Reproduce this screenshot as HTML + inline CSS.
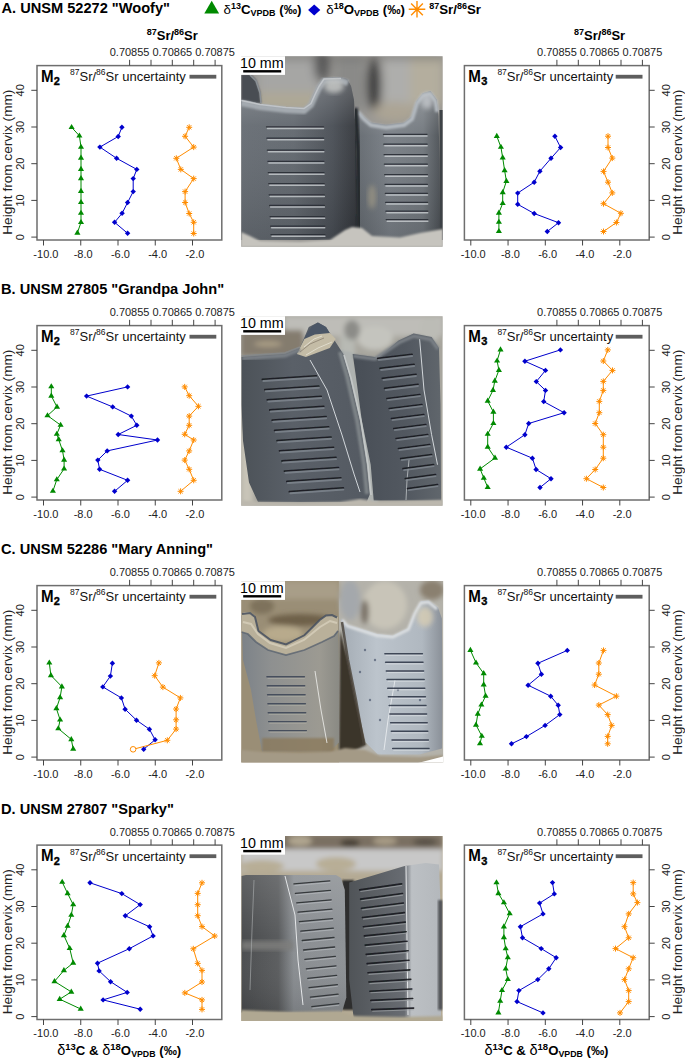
<!DOCTYPE html><html><head><meta charset="utf-8"><style>html,body{margin:0;padding:0;background:#fff;width:685px;height:1059px;overflow:hidden}svg{display:block}</style></head><body><svg width="685" height="1059" viewBox="0 0 685 1059" font-family="Liberation Sans, sans-serif">
<defs>
<filter id="b1" x="-10%" y="-10%" width="120%" height="120%"><feGaussianBlur stdDeviation="1"/></filter>
<filter id="b2" x="-20%" y="-20%" width="140%" height="140%"><feGaussianBlur stdDeviation="2.5"/></filter>
<filter id="b3" x="-30%" y="-30%" width="160%" height="160%"><feGaussianBlur stdDeviation="5"/></filter>
<filter id="b05"><feGaussianBlur stdDeviation="0.5"/></filter>
<filter id="b04" x="-5%" y="-5%" width="110%" height="110%"><feGaussianBlur stdDeviation="0.4"/></filter>
<clipPath id="cA"><rect x="241.2" y="56.2" width="201.4" height="190.5"/></clipPath>
<clipPath id="cB"><rect x="241.2" y="316.2" width="201.4" height="189.5"/></clipPath>
<clipPath id="cC"><rect x="241.2" y="581" width="202" height="181.5"/></clipPath>
<clipPath id="cD"><rect x="241.2" y="836" width="201.4" height="185"/></clipPath>
<linearGradient id="t1A" x1="0" x2="1" y1="0" y2="0"><stop offset="0" stop-color="#656b72"/><stop offset="0.45" stop-color="#60666d"/><stop offset="0.78" stop-color="#484d54"/><stop offset="1" stop-color="#303338"/></linearGradient>
<linearGradient id="t2A" x1="0" x2="1" y1="0" y2="0"><stop offset="0" stop-color="#60666c"/><stop offset="0.4" stop-color="#777d84"/><stop offset="0.8" stop-color="#6e747a"/><stop offset="1" stop-color="#4a4f54"/></linearGradient>
<linearGradient id="vA" x1="0" x2="0" y1="0" y2="1"><stop offset="0" stop-color="#fff" stop-opacity="0.25"/><stop offset="0.3" stop-color="#fff" stop-opacity="0.05"/><stop offset="1" stop-color="#000" stop-opacity="0.1"/></linearGradient>
</defs>
<defs>
<linearGradient id="t1B" x1="0" x2="1" y1="0" y2="0"><stop offset="0" stop-color="#4c5258"/><stop offset="0.4" stop-color="#5a6068"/><stop offset="1" stop-color="#545a62"/></linearGradient>
<linearGradient id="t2B" x1="0" x2="1" y1="0" y2="0"><stop offset="0" stop-color="#484e56"/><stop offset="0.6" stop-color="#525860"/><stop offset="1" stop-color="#60666c"/></linearGradient>
<linearGradient id="t1C" x1="0" x2="1" y1="0" y2="0"><stop offset="0" stop-color="#7c8288"/><stop offset="0.3" stop-color="#8e9090"/><stop offset="0.8" stop-color="#9c9a92"/><stop offset="1" stop-color="#8a8a84"/></linearGradient>
<linearGradient id="t2C" x1="0" x2="1" y1="0" y2="0"><stop offset="0" stop-color="#a4acb4"/><stop offset="0.35" stop-color="#bcc4cc"/><stop offset="0.8" stop-color="#b0b8c0"/><stop offset="1" stop-color="#8a9098"/></linearGradient>
<linearGradient id="vD" x1="0" x2="0" y1="0" y2="1"><stop offset="0" stop-color="#fff" stop-opacity="0.12"/><stop offset="0.45" stop-color="#fff" stop-opacity="0"/><stop offset="1" stop-color="#000" stop-opacity="0.12"/></linearGradient>
<linearGradient id="t1D" x1="0" x2="1" y1="0" y2="0"><stop offset="0" stop-color="#4a4c4e"/><stop offset="0.35" stop-color="#5a5c5e"/><stop offset="0.5" stop-color="#8a8e92"/><stop offset="1" stop-color="#8e9296"/></linearGradient>
<linearGradient id="t2D" x1="0" x2="1" y1="0" y2="0"><stop offset="0" stop-color="#505458"/><stop offset="0.6" stop-color="#686c72"/><stop offset="0.68" stop-color="#bcc0c4"/><stop offset="1" stop-color="#b4b8bc"/></linearGradient>
</defs>
<rect width="685" height="1059" fill="#fff"/>
<text x="1.5" y="13.2" font-size="14.6" font-weight="bold" fill="#000">A. UNSM 52272 "Woofy"</text>
<rect x="37" y="65.6" width="184.8" height="174.4" fill="none" stroke="#6e6e6e" stroke-width="1.5"/>
<path d="M31.3 237.1H37" stroke="#444" stroke-width="1"/>
<text x="24.3" y="237.1" font-size="11" text-anchor="middle" fill="#222" transform="rotate(-90 24.3 237.1)">0</text>
<path d="M31.3 200.4H37" stroke="#444" stroke-width="1"/>
<text x="24.3" y="200.4" font-size="11" text-anchor="middle" fill="#222" transform="rotate(-90 24.3 200.4)">10</text>
<path d="M31.3 163.7H37" stroke="#444" stroke-width="1"/>
<text x="24.3" y="163.7" font-size="11" text-anchor="middle" fill="#222" transform="rotate(-90 24.3 163.7)">20</text>
<path d="M31.3 127H37" stroke="#444" stroke-width="1"/>
<text x="24.3" y="127" font-size="11" text-anchor="middle" fill="#222" transform="rotate(-90 24.3 127)">30</text>
<path d="M31.3 90.3H37" stroke="#444" stroke-width="1"/>
<text x="24.3" y="90.3" font-size="11" text-anchor="middle" fill="#222" transform="rotate(-90 24.3 90.3)">40</text>
<text x="11.9" y="162.2" font-size="13.6" text-anchor="middle" fill="#222" transform="rotate(-90 11.9 162.2)">Height from cervix (mm)</text>
<path d="M43.5 240V245.5" stroke="#444" stroke-width="1"/>
<text x="45.9" y="257.5" font-size="11" text-anchor="middle" fill="#222">-10.0</text>
<path d="M80.75 240V245.5" stroke="#444" stroke-width="1"/>
<text x="83.15" y="257.5" font-size="11" text-anchor="middle" fill="#222">-8.0</text>
<path d="M118 240V245.5" stroke="#444" stroke-width="1"/>
<text x="120.4" y="257.5" font-size="11" text-anchor="middle" fill="#222">-6.0</text>
<path d="M155.25 240V245.5" stroke="#444" stroke-width="1"/>
<text x="157.65" y="257.5" font-size="11" text-anchor="middle" fill="#222">-4.0</text>
<path d="M192.5 240V245.5" stroke="#444" stroke-width="1"/>
<text x="194.9" y="257.5" font-size="11" text-anchor="middle" fill="#222">-2.0</text>
<path d="M129.6 59.8V65.6" stroke="#444" stroke-width="1"/>
<text x="129.6" y="56" font-size="11" text-anchor="middle" fill="#222">0.70855</text>
<path d="M151 59.8V65.6" stroke="#444" stroke-width="1"/>
<path d="M172.3 59.8V65.6" stroke="#444" stroke-width="1"/>
<text x="172.3" y="56" font-size="11" text-anchor="middle" fill="#222">0.70865</text>
<path d="M193.7 59.8V65.6" stroke="#444" stroke-width="1"/>
<path d="M215.1 59.8V65.6" stroke="#444" stroke-width="1"/>
<text x="215.1" y="56" font-size="11" text-anchor="middle" fill="#222">0.70875</text>
<text transform="translate(40.9 81.9) scale(0.9 1)" font-size="16.8" font-weight="bold">M</text>
<text x="53.8" y="85" font-size="11" font-weight="bold" stroke="#000" stroke-width="0.35">2</text>
<text x="70" y="81.1" font-size="13" fill="#111"><tspan font-size="8.5" dy="-6">87</tspan><tspan dy="6">Sr/</tspan><tspan font-size="8.5" dy="-6">86</tspan><tspan dy="6">Sr uncertainty</tspan></text>
<rect x="189.5" y="74.8" width="26.8" height="3.8" fill="#5e5e5e"/>
<polyline points="71.6,127.3 79.4,135.8 81,147.1 81,157.9 81,169.2 81,178.4 81,191.2 81,202.3 81,213.1 81,222.3 77.4,232.9" fill="none" stroke="#008a00" stroke-width="1" stroke-linejoin="round"/>
<polyline points="121.9,127.3 118.2,136.5 99.9,147.1 116.6,158.3 136.8,169.4 133.2,178.6 133.2,191.6 127.6,202.5 122.1,213.3 114.6,222.3 127.6,233.3" fill="none" stroke="#0000cd" stroke-width="1" stroke-linejoin="round"/>
<polyline points="189.2,127.3 185.1,136.3 193.7,147.1 176.3,158.3 180.8,169.4 193.7,178.6 185.1,191.6 185.1,202.5 189.2,213.5 193.7,222.3 193.7,233.5" fill="none" stroke="#ff8c00" stroke-width="1" stroke-linejoin="round"/>
<path d="M71.6 123.9L74.65 129.05L68.55 129.05Z" fill="#008a00"/>
<path d="M79.4 132.4L82.45 137.55L76.35 137.55Z" fill="#008a00"/>
<path d="M81 143.7L84.05 148.85L77.95 148.85Z" fill="#008a00"/>
<path d="M81 154.5L84.05 159.65L77.95 159.65Z" fill="#008a00"/>
<path d="M81 165.8L84.05 170.95L77.95 170.95Z" fill="#008a00"/>
<path d="M81 175L84.05 180.15L77.95 180.15Z" fill="#008a00"/>
<path d="M81 187.8L84.05 192.95L77.95 192.95Z" fill="#008a00"/>
<path d="M81 198.9L84.05 204.05L77.95 204.05Z" fill="#008a00"/>
<path d="M81 209.7L84.05 214.85L77.95 214.85Z" fill="#008a00"/>
<path d="M81 218.9L84.05 224.05L77.95 224.05Z" fill="#008a00"/>
<path d="M77.4 229.5L80.45 234.65L74.35 234.65Z" fill="#008a00"/>
<path d="M121.9 124.6L124.6 127.3L121.9 130L119.2 127.3Z" fill="#0000cd"/>
<path d="M118.2 133.8L120.9 136.5L118.2 139.2L115.5 136.5Z" fill="#0000cd"/>
<path d="M99.9 144.4L102.6 147.1L99.9 149.8L97.2 147.1Z" fill="#0000cd"/>
<path d="M116.6 155.6L119.3 158.3L116.6 161L113.9 158.3Z" fill="#0000cd"/>
<path d="M136.8 166.7L139.5 169.4L136.8 172.1L134.1 169.4Z" fill="#0000cd"/>
<path d="M133.2 175.9L135.9 178.6L133.2 181.3L130.5 178.6Z" fill="#0000cd"/>
<path d="M133.2 188.9L135.9 191.6L133.2 194.3L130.5 191.6Z" fill="#0000cd"/>
<path d="M127.6 199.8L130.3 202.5L127.6 205.2L124.9 202.5Z" fill="#0000cd"/>
<path d="M122.1 210.6L124.8 213.3L122.1 216L119.4 213.3Z" fill="#0000cd"/>
<path d="M114.6 219.6L117.3 222.3L114.6 225L111.9 222.3Z" fill="#0000cd"/>
<path d="M127.6 230.6L130.3 233.3L127.6 236L124.9 233.3Z" fill="#0000cd"/>
<path d="M186.2 127.3H192.2M189.2 124.3V130.3M187.08 125.18L191.32 129.42M187.08 129.42L191.32 125.18" stroke="#ff8c00" stroke-width="1" fill="none"/>
<path d="M182.1 136.3H188.1M185.1 133.3V139.3M182.98 134.18L187.22 138.42M182.98 138.42L187.22 134.18" stroke="#ff8c00" stroke-width="1" fill="none"/>
<path d="M190.7 147.1H196.7M193.7 144.1V150.1M191.58 144.98L195.82 149.22M191.58 149.22L195.82 144.98" stroke="#ff8c00" stroke-width="1" fill="none"/>
<path d="M173.3 158.3H179.3M176.3 155.3V161.3M174.18 156.18L178.42 160.42M174.18 160.42L178.42 156.18" stroke="#ff8c00" stroke-width="1" fill="none"/>
<path d="M177.8 169.4H183.8M180.8 166.4V172.4M178.68 167.28L182.92 171.52M178.68 171.52L182.92 167.28" stroke="#ff8c00" stroke-width="1" fill="none"/>
<path d="M190.7 178.6H196.7M193.7 175.6V181.6M191.58 176.48L195.82 180.72M191.58 180.72L195.82 176.48" stroke="#ff8c00" stroke-width="1" fill="none"/>
<path d="M182.1 191.6H188.1M185.1 188.6V194.6M182.98 189.48L187.22 193.72M182.98 193.72L187.22 189.48" stroke="#ff8c00" stroke-width="1" fill="none"/>
<path d="M182.1 202.5H188.1M185.1 199.5V205.5M182.98 200.38L187.22 204.62M182.98 204.62L187.22 200.38" stroke="#ff8c00" stroke-width="1" fill="none"/>
<path d="M186.2 213.5H192.2M189.2 210.5V216.5M187.08 211.38L191.32 215.62M187.08 215.62L191.32 211.38" stroke="#ff8c00" stroke-width="1" fill="none"/>
<path d="M190.7 222.3H196.7M193.7 219.3V225.3M191.58 220.18L195.82 224.42M191.58 224.42L195.82 220.18" stroke="#ff8c00" stroke-width="1" fill="none"/>
<path d="M190.7 233.5H196.7M193.7 230.5V236.5M191.58 231.38L195.82 235.62M191.58 235.62L195.82 231.38" stroke="#ff8c00" stroke-width="1" fill="none"/>
<text x="172.3" y="40.4" font-size="13" font-weight="bold" text-anchor="middle"><tspan font-size="9" dy="-5">87</tspan><tspan dy="5">Sr/</tspan><tspan font-size="9" dy="-5">86</tspan><tspan dy="5">Sr</tspan></text>
<rect x="464.4" y="65.6" width="184.8" height="174.4" fill="none" stroke="#6e6e6e" stroke-width="1.5"/>
<path d="M649.2 237.1H654.7" stroke="#444" stroke-width="1"/>
<text x="669.6" y="237.1" font-size="11" text-anchor="middle" fill="#222" transform="rotate(-90 669.6 237.1)">0</text>
<path d="M649.2 200.4H654.7" stroke="#444" stroke-width="1"/>
<text x="669.6" y="200.4" font-size="11" text-anchor="middle" fill="#222" transform="rotate(-90 669.6 200.4)">10</text>
<path d="M649.2 163.7H654.7" stroke="#444" stroke-width="1"/>
<text x="669.6" y="163.7" font-size="11" text-anchor="middle" fill="#222" transform="rotate(-90 669.6 163.7)">20</text>
<path d="M649.2 127H654.7" stroke="#444" stroke-width="1"/>
<text x="669.6" y="127" font-size="11" text-anchor="middle" fill="#222" transform="rotate(-90 669.6 127)">30</text>
<path d="M649.2 90.3H654.7" stroke="#444" stroke-width="1"/>
<text x="669.6" y="90.3" font-size="11" text-anchor="middle" fill="#222" transform="rotate(-90 669.6 90.3)">40</text>
<text x="681.6" y="162.2" font-size="13.6" text-anchor="middle" fill="#222" transform="rotate(-90 681.6 162.2)">Height from cervix (mm)</text>
<path d="M470.8 240V245.5" stroke="#444" stroke-width="1"/>
<text x="473.2" y="257.5" font-size="11" text-anchor="middle" fill="#222">-10.0</text>
<path d="M508.05 240V245.5" stroke="#444" stroke-width="1"/>
<text x="510.45" y="257.5" font-size="11" text-anchor="middle" fill="#222">-8.0</text>
<path d="M545.3 240V245.5" stroke="#444" stroke-width="1"/>
<text x="547.7" y="257.5" font-size="11" text-anchor="middle" fill="#222">-6.0</text>
<path d="M582.55 240V245.5" stroke="#444" stroke-width="1"/>
<text x="584.95" y="257.5" font-size="11" text-anchor="middle" fill="#222">-4.0</text>
<path d="M619.8 240V245.5" stroke="#444" stroke-width="1"/>
<text x="622.2" y="257.5" font-size="11" text-anchor="middle" fill="#222">-2.0</text>
<path d="M556.9 59.8V65.6" stroke="#444" stroke-width="1"/>
<text x="556.9" y="56" font-size="11" text-anchor="middle" fill="#222">0.70855</text>
<path d="M578.3 59.8V65.6" stroke="#444" stroke-width="1"/>
<path d="M599.6 59.8V65.6" stroke="#444" stroke-width="1"/>
<text x="599.6" y="56" font-size="11" text-anchor="middle" fill="#222">0.70865</text>
<path d="M621 59.8V65.6" stroke="#444" stroke-width="1"/>
<path d="M642.4 59.8V65.6" stroke="#444" stroke-width="1"/>
<text x="642.4" y="56" font-size="11" text-anchor="middle" fill="#222">0.70875</text>
<text transform="translate(468.3 81.9) scale(0.9 1)" font-size="16.8" font-weight="bold">M</text>
<text x="481.2" y="85" font-size="11" font-weight="bold" stroke="#000" stroke-width="0.35">3</text>
<text x="497.4" y="81.1" font-size="13" fill="#111"><tspan font-size="8.5" dy="-6">87</tspan><tspan dy="6">Sr/</tspan><tspan font-size="8.5" dy="-6">86</tspan><tspan dy="6">Sr uncertainty</tspan></text>
<rect x="615.7" y="74.8" width="26.8" height="3.8" fill="#5e5e5e"/>
<polyline points="496.8,136.2 500.9,147.1 502.7,157.7 504.6,170.4 506.4,181.2 502.7,192.4 502.7,203.3 498.9,212.9 498.9,222.1 498.9,231.3" fill="none" stroke="#008a00" stroke-width="1" stroke-linejoin="round"/>
<polyline points="554.9,136.2 560.6,147.5 551,158.3 539.9,171.2 534.2,182.2 517.7,193.1 517.7,204.3 534.2,213.5 558.5,222.7 547.3,231.5" fill="none" stroke="#0000cd" stroke-width="1" stroke-linejoin="round"/>
<polyline points="608,136.2 608,147.5 612.3,158.1 603.5,171.4 608,182.2 612.3,192.9 603.5,203.7 620.9,213.3 616.4,222.5 603.5,231.5" fill="none" stroke="#ff8c00" stroke-width="1" stroke-linejoin="round"/>
<path d="M496.8 132.8L499.85 137.95L493.75 137.95Z" fill="#008a00"/>
<path d="M500.9 143.7L503.95 148.85L497.85 148.85Z" fill="#008a00"/>
<path d="M502.7 154.3L505.75 159.45L499.65 159.45Z" fill="#008a00"/>
<path d="M504.6 167L507.65 172.15L501.55 172.15Z" fill="#008a00"/>
<path d="M506.4 177.8L509.45 182.95L503.35 182.95Z" fill="#008a00"/>
<path d="M502.7 189L505.75 194.15L499.65 194.15Z" fill="#008a00"/>
<path d="M502.7 199.9L505.75 205.05L499.65 205.05Z" fill="#008a00"/>
<path d="M498.9 209.5L501.95 214.65L495.85 214.65Z" fill="#008a00"/>
<path d="M498.9 218.7L501.95 223.85L495.85 223.85Z" fill="#008a00"/>
<path d="M498.9 227.9L501.95 233.05L495.85 233.05Z" fill="#008a00"/>
<path d="M554.9 133.5L557.6 136.2L554.9 138.9L552.2 136.2Z" fill="#0000cd"/>
<path d="M560.6 144.8L563.3 147.5L560.6 150.2L557.9 147.5Z" fill="#0000cd"/>
<path d="M551 155.6L553.7 158.3L551 161L548.3 158.3Z" fill="#0000cd"/>
<path d="M539.9 168.5L542.6 171.2L539.9 173.9L537.2 171.2Z" fill="#0000cd"/>
<path d="M534.2 179.5L536.9 182.2L534.2 184.9L531.5 182.2Z" fill="#0000cd"/>
<path d="M517.7 190.4L520.4 193.1L517.7 195.8L515 193.1Z" fill="#0000cd"/>
<path d="M517.7 201.6L520.4 204.3L517.7 207L515 204.3Z" fill="#0000cd"/>
<path d="M534.2 210.8L536.9 213.5L534.2 216.2L531.5 213.5Z" fill="#0000cd"/>
<path d="M558.5 220L561.2 222.7L558.5 225.4L555.8 222.7Z" fill="#0000cd"/>
<path d="M547.3 228.8L550 231.5L547.3 234.2L544.6 231.5Z" fill="#0000cd"/>
<path d="M605 136.2H611M608 133.2V139.2M605.88 134.08L610.12 138.32M605.88 138.32L610.12 134.08" stroke="#ff8c00" stroke-width="1" fill="none"/>
<path d="M605 147.5H611M608 144.5V150.5M605.88 145.38L610.12 149.62M605.88 149.62L610.12 145.38" stroke="#ff8c00" stroke-width="1" fill="none"/>
<path d="M609.3 158.1H615.3M612.3 155.1V161.1M610.18 155.98L614.42 160.22M610.18 160.22L614.42 155.98" stroke="#ff8c00" stroke-width="1" fill="none"/>
<path d="M600.5 171.4H606.5M603.5 168.4V174.4M601.38 169.28L605.62 173.52M601.38 173.52L605.62 169.28" stroke="#ff8c00" stroke-width="1" fill="none"/>
<path d="M605 182.2H611M608 179.2V185.2M605.88 180.08L610.12 184.32M605.88 184.32L610.12 180.08" stroke="#ff8c00" stroke-width="1" fill="none"/>
<path d="M609.3 192.9H615.3M612.3 189.9V195.9M610.18 190.78L614.42 195.02M610.18 195.02L614.42 190.78" stroke="#ff8c00" stroke-width="1" fill="none"/>
<path d="M600.5 203.7H606.5M603.5 200.7V206.7M601.38 201.58L605.62 205.82M601.38 205.82L605.62 201.58" stroke="#ff8c00" stroke-width="1" fill="none"/>
<path d="M617.9 213.3H623.9M620.9 210.3V216.3M618.78 211.18L623.02 215.42M618.78 215.42L623.02 211.18" stroke="#ff8c00" stroke-width="1" fill="none"/>
<path d="M613.4 222.5H619.4M616.4 219.5V225.5M614.28 220.38L618.52 224.62M614.28 224.62L618.52 220.38" stroke="#ff8c00" stroke-width="1" fill="none"/>
<path d="M600.5 231.5H606.5M603.5 228.5V234.5M601.38 229.38L605.62 233.62M601.38 233.62L605.62 229.38" stroke="#ff8c00" stroke-width="1" fill="none"/>
<text x="599.6" y="40.4" font-size="13" font-weight="bold" text-anchor="middle"><tspan font-size="9" dy="-5">87</tspan><tspan dy="5">Sr/</tspan><tspan font-size="9" dy="-5">86</tspan><tspan dy="5">Sr</tspan></text>
<g clip-path="url(#cA)">
<rect x="241" y="56" width="202" height="191" fill="#9a9894"/>
<g filter="url(#b3)">
<rect x="258" y="56" width="62" height="40" fill="#a6a6a4"/>
<rect x="258" y="92" width="60" height="20" fill="#aea896"/>
<ellipse cx="322" cy="66" rx="8" ry="16" fill="#5a5a5a"/>
<rect x="335" y="56" width="30" height="55" fill="#8a8a88"/>
<ellipse cx="374" cy="85" rx="7" ry="26" fill="#3c3c3e"/>
<rect x="383" y="56" width="28" height="60" fill="#aeaeac"/>
<rect x="410" y="56" width="33" height="50" fill="#b4ae9e"/>
<ellipse cx="395" cy="112" rx="22" ry="10" fill="#aca494"/>
<rect x="241" y="56" width="202" height="3" fill="#3a3a3a" opacity="0.6"/>
</g>
<path d="M241.0 74.0 L250.0 74.0 L256.0 80.0 L260.0 92.0 L261.0 104.0 L241.0 104.0 Z" fill="#4a4e52" filter="url(#b1)"/>
<path d="M250 75 L256 81 L260 93 L261 103" stroke="#8a9096" stroke-width="1.5" fill="none" filter="url(#b05)"/>
<path d="M355.3 108.6 L363.0 116.3 L370.7 122.4 L386.0 124.7 L404.4 122.4 L412.0 116.3 L416.6 101.0 L422.8 93.3 L430.4 91.0 L436.6 99.5 L438.5 116.0 L439.5 160.0 L440.0 240.0 L357.0 240.0 L356.5 150.0 Z" fill="url(#t2A)"/>
<path d="M355.3 108.6 L363.0 116.3 L370.7 122.4 L386.0 124.7 L404.4 122.4 L412.0 116.3 L416.6 101.0 L422.8 93.3 L430.4 91.0 L436.6 99.5 L438.5 116.0 L439.5 160.0 L440.0 240.0 L357.0 240.0 L356.5 150.0 Z" fill="url(#vA)"/>
<path d="M358 112 L364 119 L371 125 L386 127.5 L404 125 L412 119 L417 103 L423 95.5 L430 93.5 L435.5 101 L437 112" stroke="#b4bac0" stroke-width="4" fill="none" filter="url(#b1)"/>
<ellipse cx="427" cy="101" rx="6" ry="8" fill="#c4c8cc" filter="url(#b2)" opacity="0.8"/>
<ellipse cx="372" cy="197" rx="4" ry="12" fill="#a09a86" filter="url(#b2)" opacity="0.7"/>
<path d="M241.2 99.5 L250.0 101.0 L260.0 104.0 L275.0 106.0 L286.0 107.0 L304.4 108.0 L310.0 103.0 L314.0 94.0 L318.2 85.7 L323.5 78.0 L332.0 77.0 L341.0 77.2 L347.0 79.0 L351.0 86.0 L354.0 100.0 L356.0 140.0 L357.5 200.0 L358.0 240.0 L241.2 240.0 Z" fill="url(#t1A)"/>
<path d="M241.2 99.5 L250.0 101.0 L260.0 104.0 L275.0 106.0 L286.0 107.0 L304.4 108.0 L310.0 103.0 L314.0 94.0 L318.2 85.7 L323.5 78.0 L332.0 77.0 L341.0 77.2 L347.0 79.0 L351.0 86.0 L354.0 100.0 L356.0 140.0 L357.5 200.0 L358.0 240.0 L241.2 240.0 Z" fill="url(#vA)"/>
<path d="M241 103 L260 107 L286 110 L304 111 L311 105 L315 96 L319 88 L324 81 L341 80.5 L348 83" stroke="#a4aab0" stroke-width="6" fill="none" filter="url(#b1)"/>
<path d="M241 100.5 L260 104.5 L286 107.5 L304 108.5 L311 103.5 L315 94.5 L319 86.5 L324 79 L341 78.5" stroke="#c0c4c8" stroke-width="1.5" fill="none" filter="url(#b05)"/>
<ellipse cx="334" cy="86" rx="10" ry="7" fill="#c4c6c4" filter="url(#b2)" opacity="0.85"/>
<path d="M355.5 108 L358 150 L359.5 236" stroke="#24272b" stroke-width="4.5" fill="none" filter="url(#b1)"/>
<rect x="439.5" y="110" width="3.5" height="130" fill="#3e4246" filter="url(#b05)"/>
<g filter="url(#b04)">
<path d="M266.5 126.8L323.5 126.8" stroke="#2a2e34" stroke-width="1.3" stroke-linecap="round" opacity="0.90"/>
<path d="M267.5 128.4L323.5 128.4" stroke="#d4d8dc" stroke-width="1.5" stroke-linecap="round" opacity="0.72"/>
<path d="M266.9 138.2L323.6 138.2" stroke="#2a2e34" stroke-width="1.3" stroke-linecap="round" opacity="0.90"/>
<path d="M267.9 139.8L323.6 139.8" stroke="#d4d8dc" stroke-width="1.5" stroke-linecap="round" opacity="0.72"/>
<path d="M267.4 150.2L323.8 150.2" stroke="#2a2e34" stroke-width="1.3" stroke-linecap="round" opacity="0.90"/>
<path d="M268.4 151.8L323.8 151.8" stroke="#d4d8dc" stroke-width="1.5" stroke-linecap="round" opacity="0.72"/>
<path d="M267.9 161.3L323.9 161.3" stroke="#2a2e34" stroke-width="1.3" stroke-linecap="round" opacity="0.90"/>
<path d="M268.9 162.9L323.9 162.9" stroke="#d4d8dc" stroke-width="1.5" stroke-linecap="round" opacity="0.72"/>
<path d="M268.3 172.6L324.0 172.6" stroke="#2a2e34" stroke-width="1.3" stroke-linecap="round" opacity="0.90"/>
<path d="M269.3 174.2L324.0 174.2" stroke="#d4d8dc" stroke-width="1.5" stroke-linecap="round" opacity="0.72"/>
<path d="M268.8 183.7L324.2 183.7" stroke="#2a2e34" stroke-width="1.3" stroke-linecap="round" opacity="0.90"/>
<path d="M269.8 185.3L324.2 185.3" stroke="#d4d8dc" stroke-width="1.5" stroke-linecap="round" opacity="0.72"/>
<path d="M269.2 194.8L324.3 194.8" stroke="#2a2e34" stroke-width="1.3" stroke-linecap="round" opacity="0.90"/>
<path d="M270.2 196.4L324.3 196.4" stroke="#d4d8dc" stroke-width="1.5" stroke-linecap="round" opacity="0.72"/>
<path d="M269.6 205.5L324.4 205.5" stroke="#2a2e34" stroke-width="1.3" stroke-linecap="round" opacity="0.90"/>
<path d="M270.6 207.1L324.4 207.1" stroke="#d4d8dc" stroke-width="1.5" stroke-linecap="round" opacity="0.72"/>
<path d="M270.1 216.6L324.6 216.6" stroke="#2a2e34" stroke-width="1.3" stroke-linecap="round" opacity="0.90"/>
<path d="M271.1 218.2L324.6 218.2" stroke="#d4d8dc" stroke-width="1.5" stroke-linecap="round" opacity="0.72"/>
<path d="M270.6 226.2L324.7 226.2" stroke="#2a2e34" stroke-width="1.3" stroke-linecap="round" opacity="0.90"/>
<path d="M271.6 227.8L324.7 227.8" stroke="#d4d8dc" stroke-width="1.5" stroke-linecap="round" opacity="0.72"/>
<path d="M271.0 234.6L324.9 234.6" stroke="#2a2e34" stroke-width="1.3" stroke-linecap="round" opacity="0.90"/>
<path d="M272.0 236.2L324.9 236.2" stroke="#d4d8dc" stroke-width="1.5" stroke-linecap="round" opacity="0.72"/>
</g>
<g filter="url(#b04)">
<path d="M383.5 134.3L427.0 134.3" stroke="#2a2e34" stroke-width="1.3" stroke-linecap="round" opacity="0.90"/>
<path d="M384.5 135.9L427.0 135.9" stroke="#d4d8dc" stroke-width="1.5" stroke-linecap="round" opacity="0.72"/>
<path d="M383.8 144.2L427.1 144.2" stroke="#2a2e34" stroke-width="1.3" stroke-linecap="round" opacity="0.90"/>
<path d="M384.8 145.8L427.1 145.8" stroke="#d4d8dc" stroke-width="1.5" stroke-linecap="round" opacity="0.72"/>
<path d="M384.1 154.7L427.2 154.7" stroke="#2a2e34" stroke-width="1.3" stroke-linecap="round" opacity="0.90"/>
<path d="M385.1 156.3L427.2 156.3" stroke="#d4d8dc" stroke-width="1.5" stroke-linecap="round" opacity="0.72"/>
<path d="M384.4 164.2L427.3 164.2" stroke="#2a2e34" stroke-width="1.3" stroke-linecap="round" opacity="0.90"/>
<path d="M385.4 165.8L427.3 165.8" stroke="#d4d8dc" stroke-width="1.5" stroke-linecap="round" opacity="0.72"/>
<path d="M384.7 174.7L427.4 174.7" stroke="#2a2e34" stroke-width="1.3" stroke-linecap="round" opacity="0.90"/>
<path d="M385.7 176.3L427.4 176.3" stroke="#d4d8dc" stroke-width="1.5" stroke-linecap="round" opacity="0.72"/>
<path d="M385.0 184.3L427.4 184.3" stroke="#2a2e34" stroke-width="1.3" stroke-linecap="round" opacity="0.90"/>
<path d="M386.0 185.9L427.4 185.9" stroke="#d4d8dc" stroke-width="1.5" stroke-linecap="round" opacity="0.72"/>
<path d="M385.3 193.3L427.5 193.3" stroke="#2a2e34" stroke-width="1.3" stroke-linecap="round" opacity="0.90"/>
<path d="M386.3 194.9L427.5 194.9" stroke="#d4d8dc" stroke-width="1.5" stroke-linecap="round" opacity="0.72"/>
<path d="M385.6 202.3L427.6 202.3" stroke="#2a2e34" stroke-width="1.3" stroke-linecap="round" opacity="0.90"/>
<path d="M386.6 203.9L427.6 203.9" stroke="#d4d8dc" stroke-width="1.5" stroke-linecap="round" opacity="0.72"/>
<path d="M385.9 211.2L427.7 211.2" stroke="#2a2e34" stroke-width="1.3" stroke-linecap="round" opacity="0.90"/>
<path d="M386.9 212.8L427.7 212.8" stroke="#d4d8dc" stroke-width="1.5" stroke-linecap="round" opacity="0.72"/>
<path d="M386.2 219.6L427.8 219.6" stroke="#2a2e34" stroke-width="1.3" stroke-linecap="round" opacity="0.90"/>
<path d="M387.2 221.2L427.8 221.2" stroke="#d4d8dc" stroke-width="1.5" stroke-linecap="round" opacity="0.72"/>
</g>
<path d="M241.0 232.0 L250.0 236.0 L260.0 241.0 L300.0 242.0 L330.0 240.0 L345.0 230.0 L352.0 227.0 L362.0 228.0 L372.0 236.0 L400.0 237.5 L420.0 233.0 L443.0 229.0 L443.0 247.0 L241.0 247.0 Z" fill="#c6c4be" filter="url(#b1)"/>
</g>
<rect x="240.8" y="56.2" width="44.2" height="18.7" fill="#fff"/>
<text x="240" y="68" font-size="14.3" fill="#000">10 mm</text>
<rect x="243.2" y="70.1" width="38" height="2.4" fill="#000"/>
<text x="1" y="294.3" font-size="14.6" font-weight="bold" fill="#000">B. UNSM 27805 "Grandpa John"</text>
<rect x="37" y="325.6" width="184.8" height="174.4" fill="none" stroke="#6e6e6e" stroke-width="1.5"/>
<path d="M31.3 497.1H37" stroke="#444" stroke-width="1"/>
<text x="24.3" y="497.1" font-size="11" text-anchor="middle" fill="#222" transform="rotate(-90 24.3 497.1)">0</text>
<path d="M31.3 460.4H37" stroke="#444" stroke-width="1"/>
<text x="24.3" y="460.4" font-size="11" text-anchor="middle" fill="#222" transform="rotate(-90 24.3 460.4)">10</text>
<path d="M31.3 423.7H37" stroke="#444" stroke-width="1"/>
<text x="24.3" y="423.7" font-size="11" text-anchor="middle" fill="#222" transform="rotate(-90 24.3 423.7)">20</text>
<path d="M31.3 387H37" stroke="#444" stroke-width="1"/>
<text x="24.3" y="387" font-size="11" text-anchor="middle" fill="#222" transform="rotate(-90 24.3 387)">30</text>
<path d="M31.3 350.3H37" stroke="#444" stroke-width="1"/>
<text x="24.3" y="350.3" font-size="11" text-anchor="middle" fill="#222" transform="rotate(-90 24.3 350.3)">40</text>
<text x="11.9" y="422.2" font-size="13.6" text-anchor="middle" fill="#222" transform="rotate(-90 11.9 422.2)">Height from cervix (mm)</text>
<path d="M43.5 500V505.5" stroke="#444" stroke-width="1"/>
<text x="45.9" y="517.5" font-size="11" text-anchor="middle" fill="#222">-10.0</text>
<path d="M80.75 500V505.5" stroke="#444" stroke-width="1"/>
<text x="83.15" y="517.5" font-size="11" text-anchor="middle" fill="#222">-8.0</text>
<path d="M118 500V505.5" stroke="#444" stroke-width="1"/>
<text x="120.4" y="517.5" font-size="11" text-anchor="middle" fill="#222">-6.0</text>
<path d="M155.25 500V505.5" stroke="#444" stroke-width="1"/>
<text x="157.65" y="517.5" font-size="11" text-anchor="middle" fill="#222">-4.0</text>
<path d="M192.5 500V505.5" stroke="#444" stroke-width="1"/>
<text x="194.9" y="517.5" font-size="11" text-anchor="middle" fill="#222">-2.0</text>
<path d="M129.6 319.8V325.6" stroke="#444" stroke-width="1"/>
<text x="129.6" y="316" font-size="11" text-anchor="middle" fill="#222">0.70855</text>
<path d="M151 319.8V325.6" stroke="#444" stroke-width="1"/>
<path d="M172.3 319.8V325.6" stroke="#444" stroke-width="1"/>
<text x="172.3" y="316" font-size="11" text-anchor="middle" fill="#222">0.70865</text>
<path d="M193.7 319.8V325.6" stroke="#444" stroke-width="1"/>
<path d="M215.1 319.8V325.6" stroke="#444" stroke-width="1"/>
<text x="215.1" y="316" font-size="11" text-anchor="middle" fill="#222">0.70875</text>
<text transform="translate(40.9 341.9) scale(0.9 1)" font-size="16.8" font-weight="bold">M</text>
<text x="53.8" y="345" font-size="11" font-weight="bold" stroke="#000" stroke-width="0.35">2</text>
<text x="70" y="341.1" font-size="13" fill="#111"><tspan font-size="8.5" dy="-6">87</tspan><tspan dy="6">Sr/</tspan><tspan font-size="8.5" dy="-6">86</tspan><tspan dy="6">Sr uncertainty</tspan></text>
<rect x="189.5" y="334.8" width="26.8" height="3.8" fill="#5e5e5e"/>
<polyline points="51.3,386.6 51.3,395.9 57,407 47.5,415.6 60.6,425.1 56.8,434.1 58.7,439.5 62.5,450.6 64.1,459.9 64.1,468.8 56.8,479.6 52.9,491.1" fill="none" stroke="#008a00" stroke-width="1" stroke-linejoin="round"/>
<polyline points="127.6,386.9 86.6,396.1 112.7,406.9 131.3,416.1 136.8,425.3 118.2,434.5 157.5,440 107.2,450.9 97.8,460.1 99.6,469.3 127.6,480.3 114.6,491.3" fill="none" stroke="#0000cd" stroke-width="1" stroke-linejoin="round"/>
<polyline points="184.7,386.9 189.2,395.7 198.4,406.3 189.2,416.1 189.2,425.3 184.7,434.3 193.7,440 189.2,450.9 184.7,460.1 189.2,469.3 193.7,480.3 180.6,491.3" fill="none" stroke="#ff8c00" stroke-width="1" stroke-linejoin="round"/>
<path d="M51.3 383.2L54.35 388.35L48.25 388.35Z" fill="#008a00"/>
<path d="M51.3 392.5L54.35 397.65L48.25 397.65Z" fill="#008a00"/>
<path d="M57 403.6L60.05 408.75L53.95 408.75Z" fill="#008a00"/>
<path d="M47.5 412.2L50.55 417.35L44.45 417.35Z" fill="#008a00"/>
<path d="M60.6 421.7L63.65 426.85L57.55 426.85Z" fill="#008a00"/>
<path d="M56.8 430.7L59.85 435.85L53.75 435.85Z" fill="#008a00"/>
<path d="M58.7 436.1L61.75 441.25L55.65 441.25Z" fill="#008a00"/>
<path d="M62.5 447.2L65.55 452.35L59.45 452.35Z" fill="#008a00"/>
<path d="M64.1 456.5L67.15 461.65L61.05 461.65Z" fill="#008a00"/>
<path d="M64.1 465.4L67.15 470.55L61.05 470.55Z" fill="#008a00"/>
<path d="M56.8 476.2L59.85 481.35L53.75 481.35Z" fill="#008a00"/>
<path d="M52.9 487.7L55.95 492.85L49.85 492.85Z" fill="#008a00"/>
<path d="M127.6 384.2L130.3 386.9L127.6 389.6L124.9 386.9Z" fill="#0000cd"/>
<path d="M86.6 393.4L89.3 396.1L86.6 398.8L83.9 396.1Z" fill="#0000cd"/>
<path d="M112.7 404.2L115.4 406.9L112.7 409.6L110 406.9Z" fill="#0000cd"/>
<path d="M131.3 413.4L134 416.1L131.3 418.8L128.6 416.1Z" fill="#0000cd"/>
<path d="M136.8 422.6L139.5 425.3L136.8 428L134.1 425.3Z" fill="#0000cd"/>
<path d="M118.2 431.8L120.9 434.5L118.2 437.2L115.5 434.5Z" fill="#0000cd"/>
<path d="M157.5 437.3L160.2 440L157.5 442.7L154.8 440Z" fill="#0000cd"/>
<path d="M107.2 448.2L109.9 450.9L107.2 453.6L104.5 450.9Z" fill="#0000cd"/>
<path d="M97.8 457.4L100.5 460.1L97.8 462.8L95.1 460.1Z" fill="#0000cd"/>
<path d="M99.6 466.6L102.3 469.3L99.6 472L96.9 469.3Z" fill="#0000cd"/>
<path d="M127.6 477.6L130.3 480.3L127.6 483L124.9 480.3Z" fill="#0000cd"/>
<path d="M114.6 488.6L117.3 491.3L114.6 494L111.9 491.3Z" fill="#0000cd"/>
<path d="M181.7 386.9H187.7M184.7 383.9V389.9M182.58 384.78L186.82 389.02M182.58 389.02L186.82 384.78" stroke="#ff8c00" stroke-width="1" fill="none"/>
<path d="M186.2 395.7H192.2M189.2 392.7V398.7M187.08 393.58L191.32 397.82M187.08 397.82L191.32 393.58" stroke="#ff8c00" stroke-width="1" fill="none"/>
<path d="M195.4 406.3H201.4M198.4 403.3V409.3M196.28 404.18L200.52 408.42M196.28 408.42L200.52 404.18" stroke="#ff8c00" stroke-width="1" fill="none"/>
<path d="M186.2 416.1H192.2M189.2 413.1V419.1M187.08 413.98L191.32 418.22M187.08 418.22L191.32 413.98" stroke="#ff8c00" stroke-width="1" fill="none"/>
<path d="M186.2 425.3H192.2M189.2 422.3V428.3M187.08 423.18L191.32 427.42M187.08 427.42L191.32 423.18" stroke="#ff8c00" stroke-width="1" fill="none"/>
<path d="M181.7 434.3H187.7M184.7 431.3V437.3M182.58 432.18L186.82 436.42M182.58 436.42L186.82 432.18" stroke="#ff8c00" stroke-width="1" fill="none"/>
<path d="M190.7 440H196.7M193.7 437V443M191.58 437.88L195.82 442.12M191.58 442.12L195.82 437.88" stroke="#ff8c00" stroke-width="1" fill="none"/>
<path d="M186.2 450.9H192.2M189.2 447.9V453.9M187.08 448.78L191.32 453.02M187.08 453.02L191.32 448.78" stroke="#ff8c00" stroke-width="1" fill="none"/>
<path d="M181.7 460.1H187.7M184.7 457.1V463.1M182.58 457.98L186.82 462.22M182.58 462.22L186.82 457.98" stroke="#ff8c00" stroke-width="1" fill="none"/>
<path d="M186.2 469.3H192.2M189.2 466.3V472.3M187.08 467.18L191.32 471.42M187.08 471.42L191.32 467.18" stroke="#ff8c00" stroke-width="1" fill="none"/>
<path d="M190.7 480.3H196.7M193.7 477.3V483.3M191.58 478.18L195.82 482.42M191.58 482.42L195.82 478.18" stroke="#ff8c00" stroke-width="1" fill="none"/>
<path d="M177.6 491.3H183.6M180.6 488.3V494.3M178.48 489.18L182.72 493.42M178.48 493.42L182.72 489.18" stroke="#ff8c00" stroke-width="1" fill="none"/>
<rect x="464.4" y="325.6" width="184.8" height="174.4" fill="none" stroke="#6e6e6e" stroke-width="1.5"/>
<path d="M649.2 497.1H654.7" stroke="#444" stroke-width="1"/>
<text x="669.6" y="497.1" font-size="11" text-anchor="middle" fill="#222" transform="rotate(-90 669.6 497.1)">0</text>
<path d="M649.2 460.4H654.7" stroke="#444" stroke-width="1"/>
<text x="669.6" y="460.4" font-size="11" text-anchor="middle" fill="#222" transform="rotate(-90 669.6 460.4)">10</text>
<path d="M649.2 423.7H654.7" stroke="#444" stroke-width="1"/>
<text x="669.6" y="423.7" font-size="11" text-anchor="middle" fill="#222" transform="rotate(-90 669.6 423.7)">20</text>
<path d="M649.2 387H654.7" stroke="#444" stroke-width="1"/>
<text x="669.6" y="387" font-size="11" text-anchor="middle" fill="#222" transform="rotate(-90 669.6 387)">30</text>
<path d="M649.2 350.3H654.7" stroke="#444" stroke-width="1"/>
<text x="669.6" y="350.3" font-size="11" text-anchor="middle" fill="#222" transform="rotate(-90 669.6 350.3)">40</text>
<text x="681.6" y="422.2" font-size="13.6" text-anchor="middle" fill="#222" transform="rotate(-90 681.6 422.2)">Height from cervix (mm)</text>
<path d="M470.8 500V505.5" stroke="#444" stroke-width="1"/>
<text x="473.2" y="517.5" font-size="11" text-anchor="middle" fill="#222">-10.0</text>
<path d="M508.05 500V505.5" stroke="#444" stroke-width="1"/>
<text x="510.45" y="517.5" font-size="11" text-anchor="middle" fill="#222">-8.0</text>
<path d="M545.3 500V505.5" stroke="#444" stroke-width="1"/>
<text x="547.7" y="517.5" font-size="11" text-anchor="middle" fill="#222">-6.0</text>
<path d="M582.55 500V505.5" stroke="#444" stroke-width="1"/>
<text x="584.95" y="517.5" font-size="11" text-anchor="middle" fill="#222">-4.0</text>
<path d="M619.8 500V505.5" stroke="#444" stroke-width="1"/>
<text x="622.2" y="517.5" font-size="11" text-anchor="middle" fill="#222">-2.0</text>
<path d="M556.9 319.8V325.6" stroke="#444" stroke-width="1"/>
<text x="556.9" y="316" font-size="11" text-anchor="middle" fill="#222">0.70855</text>
<path d="M578.3 319.8V325.6" stroke="#444" stroke-width="1"/>
<path d="M599.6 319.8V325.6" stroke="#444" stroke-width="1"/>
<text x="599.6" y="316" font-size="11" text-anchor="middle" fill="#222">0.70865</text>
<path d="M621 319.8V325.6" stroke="#444" stroke-width="1"/>
<path d="M642.4 319.8V325.6" stroke="#444" stroke-width="1"/>
<text x="642.4" y="316" font-size="11" text-anchor="middle" fill="#222">0.70875</text>
<text transform="translate(468.3 341.9) scale(0.9 1)" font-size="16.8" font-weight="bold">M</text>
<text x="481.2" y="345" font-size="11" font-weight="bold" stroke="#000" stroke-width="0.35">3</text>
<text x="497.4" y="341.1" font-size="13" fill="#111"><tspan font-size="8.5" dy="-6">87</tspan><tspan dy="6">Sr/</tspan><tspan font-size="8.5" dy="-6">86</tspan><tspan dy="6">Sr uncertainty</tspan></text>
<rect x="615.7" y="334.8" width="26.8" height="3.8" fill="#5e5e5e"/>
<polyline points="500.5,349.7 497.1,360.8 498.9,370.2 494.8,381 493,390.2 487.7,401 493.4,412 493.4,423.3 487.7,434.1 487.7,447 495,458 480.1,468.9 483.8,478.1 487.7,487.3" fill="none" stroke="#008a00" stroke-width="1" stroke-linejoin="round"/>
<polyline points="560.4,349.9 524.9,361.2 545.5,370.4 536.3,381.6 545.5,390.4 543.7,401.6 564.1,412.7 528.7,423.5 524.9,434.7 506.3,447.2 532.4,458.2 536.1,469.5 551,478.7 540,487.5" fill="none" stroke="#0000cd" stroke-width="1" stroke-linejoin="round"/>
<polyline points="607.8,349.9 603.3,361 612.5,370.4 603.3,381.4 603.3,390.4 599.3,401.4 599.3,412.7 595.2,423.5 603.3,434.7 603.3,447.2 603.3,458.2 595.2,469.5 586.4,478.7 603.3,487.5" fill="none" stroke="#ff8c00" stroke-width="1" stroke-linejoin="round"/>
<path d="M500.5 346.3L503.55 351.45L497.45 351.45Z" fill="#008a00"/>
<path d="M497.1 357.4L500.15 362.55L494.05 362.55Z" fill="#008a00"/>
<path d="M498.9 366.8L501.95 371.95L495.85 371.95Z" fill="#008a00"/>
<path d="M494.8 377.6L497.85 382.75L491.75 382.75Z" fill="#008a00"/>
<path d="M493 386.8L496.05 391.95L489.95 391.95Z" fill="#008a00"/>
<path d="M487.7 397.6L490.75 402.75L484.65 402.75Z" fill="#008a00"/>
<path d="M493.4 408.6L496.45 413.75L490.35 413.75Z" fill="#008a00"/>
<path d="M493.4 419.9L496.45 425.05L490.35 425.05Z" fill="#008a00"/>
<path d="M487.7 430.7L490.75 435.85L484.65 435.85Z" fill="#008a00"/>
<path d="M487.7 443.6L490.75 448.75L484.65 448.75Z" fill="#008a00"/>
<path d="M495 454.6L498.05 459.75L491.95 459.75Z" fill="#008a00"/>
<path d="M480.1 465.5L483.15 470.65L477.05 470.65Z" fill="#008a00"/>
<path d="M483.8 474.7L486.85 479.85L480.75 479.85Z" fill="#008a00"/>
<path d="M487.7 483.9L490.75 489.05L484.65 489.05Z" fill="#008a00"/>
<path d="M560.4 347.2L563.1 349.9L560.4 352.6L557.7 349.9Z" fill="#0000cd"/>
<path d="M524.9 358.5L527.6 361.2L524.9 363.9L522.2 361.2Z" fill="#0000cd"/>
<path d="M545.5 367.7L548.2 370.4L545.5 373.1L542.8 370.4Z" fill="#0000cd"/>
<path d="M536.3 378.9L539 381.6L536.3 384.3L533.6 381.6Z" fill="#0000cd"/>
<path d="M545.5 387.7L548.2 390.4L545.5 393.1L542.8 390.4Z" fill="#0000cd"/>
<path d="M543.7 398.9L546.4 401.6L543.7 404.3L541 401.6Z" fill="#0000cd"/>
<path d="M564.1 410L566.8 412.7L564.1 415.4L561.4 412.7Z" fill="#0000cd"/>
<path d="M528.7 420.8L531.4 423.5L528.7 426.2L526 423.5Z" fill="#0000cd"/>
<path d="M524.9 432L527.6 434.7L524.9 437.4L522.2 434.7Z" fill="#0000cd"/>
<path d="M506.3 444.5L509 447.2L506.3 449.9L503.6 447.2Z" fill="#0000cd"/>
<path d="M532.4 455.5L535.1 458.2L532.4 460.9L529.7 458.2Z" fill="#0000cd"/>
<path d="M536.1 466.8L538.8 469.5L536.1 472.2L533.4 469.5Z" fill="#0000cd"/>
<path d="M551 476L553.7 478.7L551 481.4L548.3 478.7Z" fill="#0000cd"/>
<path d="M540 484.8L542.7 487.5L540 490.2L537.3 487.5Z" fill="#0000cd"/>
<path d="M604.8 349.9H610.8M607.8 346.9V352.9M605.68 347.78L609.92 352.02M605.68 352.02L609.92 347.78" stroke="#ff8c00" stroke-width="1" fill="none"/>
<path d="M600.3 361H606.3M603.3 358V364M601.18 358.88L605.42 363.12M601.18 363.12L605.42 358.88" stroke="#ff8c00" stroke-width="1" fill="none"/>
<path d="M609.5 370.4H615.5M612.5 367.4V373.4M610.38 368.28L614.62 372.52M610.38 372.52L614.62 368.28" stroke="#ff8c00" stroke-width="1" fill="none"/>
<path d="M600.3 381.4H606.3M603.3 378.4V384.4M601.18 379.28L605.42 383.52M601.18 383.52L605.42 379.28" stroke="#ff8c00" stroke-width="1" fill="none"/>
<path d="M600.3 390.4H606.3M603.3 387.4V393.4M601.18 388.28L605.42 392.52M601.18 392.52L605.42 388.28" stroke="#ff8c00" stroke-width="1" fill="none"/>
<path d="M596.3 401.4H602.3M599.3 398.4V404.4M597.18 399.28L601.42 403.52M597.18 403.52L601.42 399.28" stroke="#ff8c00" stroke-width="1" fill="none"/>
<path d="M596.3 412.7H602.3M599.3 409.7V415.7M597.18 410.58L601.42 414.82M597.18 414.82L601.42 410.58" stroke="#ff8c00" stroke-width="1" fill="none"/>
<path d="M592.2 423.5H598.2M595.2 420.5V426.5M593.08 421.38L597.32 425.62M593.08 425.62L597.32 421.38" stroke="#ff8c00" stroke-width="1" fill="none"/>
<path d="M600.3 434.7H606.3M603.3 431.7V437.7M601.18 432.58L605.42 436.82M601.18 436.82L605.42 432.58" stroke="#ff8c00" stroke-width="1" fill="none"/>
<path d="M600.3 447.2H606.3M603.3 444.2V450.2M601.18 445.08L605.42 449.32M601.18 449.32L605.42 445.08" stroke="#ff8c00" stroke-width="1" fill="none"/>
<path d="M600.3 458.2H606.3M603.3 455.2V461.2M601.18 456.08L605.42 460.32M601.18 460.32L605.42 456.08" stroke="#ff8c00" stroke-width="1" fill="none"/>
<path d="M592.2 469.5H598.2M595.2 466.5V472.5M593.08 467.38L597.32 471.62M593.08 471.62L597.32 467.38" stroke="#ff8c00" stroke-width="1" fill="none"/>
<path d="M583.4 478.7H589.4M586.4 475.7V481.7M584.28 476.58L588.52 480.82M584.28 480.82L588.52 476.58" stroke="#ff8c00" stroke-width="1" fill="none"/>
<path d="M600.3 487.5H606.3M603.3 484.5V490.5M601.18 485.38L605.42 489.62M601.18 489.62L605.42 485.38" stroke="#ff8c00" stroke-width="1" fill="none"/>
<g clip-path="url(#cB)">
<rect x="241" y="316" width="202" height="190" fill="#a8a69e"/>
<g filter="url(#b2)">
<rect x="285" y="316" width="158" height="20" fill="#bebdb8"/>
<rect x="241" y="330" width="62" height="26" fill="#847c6e"/>
<ellipse cx="268" cy="344" rx="14" ry="3" fill="#a89c84"/>
<rect x="340" y="335" width="15" height="25" fill="#b8bab4"/>
<ellipse cx="375" cy="338" rx="18" ry="12" fill="#c4c4be"/>
<ellipse cx="352" cy="330" rx="8" ry="10" fill="#8c8c88"/>
<ellipse cx="430" cy="330" rx="10" ry="14" fill="#bcbcb6"/>
<rect x="241" y="430" width="12" height="76" fill="#c8c4b8"/>
</g>
<path d="M340 350 L352 352 L364 420 L374 470 L378 503 L362 503 L356 470 L346 420 L338 370 Z" fill="#aeb2b0" filter="url(#b1)"/>
<path d="M352.7 353.9 L374.7 356.9 L378.0 358.0 L398.6 340.4 L413.6 333.5 L431.6 337.0 L439.0 347.9 L440.5 404.8 L441.1 500.6 L373.7 500.6 L370.7 464.7 L361.7 419.8 L355.7 374.9 Z" fill="url(#t2B)"/>
<path d="M241.5 356.9 L284.9 353.9 L299.9 347.9 L308.8 327.0 L317.8 322.5 L326.0 327.0 L333.0 338.0 L343.3 353.9 L349.2 374.9 L359.7 419.8 L366.7 464.7 L369.7 494.6 L366.7 502.1 L258.0 502.1 L249.0 482.6 L243.0 440.7 L241.5 404.8 Z" fill="url(#t1B)"/>
<path d="M340 352 L347 376 L357 420 L364 464 L367 494" stroke="#7e8488" stroke-width="4" fill="none" filter="url(#b1)"/>
<path d="M344 355 L351 378 L361 421 L368 465 L371 495" stroke="#c4c8c8" stroke-width="1.6" fill="none" filter="url(#b05)"/>
<path d="M300.0 348.0 L306.0 335.0 L312.0 326.0 L318.0 322.5 L326.0 327.0 L332.0 337.0 L328.0 342.0 L318.0 344.0 L306.0 349.0 Z" fill="#4c5666" filter="url(#b05)"/>
<path d="M296.9 353.9 L304.4 338.9 L314.8 334.5 L329.8 333.0 L335.8 338.9 L329.8 347.9 L317.8 352.4 L305.8 356.9 Z" fill="#c4bca6" filter="url(#b05)"/>
<path d="M300 352 L310 344 L324 338" stroke="#8a8070" stroke-width="0.8" fill="none"/>
<path d="M306 355 L318 348 L332 342" stroke="#e0dccc" stroke-width="1" fill="none"/>
<path d="M304 347 L314 339 L322 336" stroke="#e8e4d8" stroke-width="0.8" fill="none"/>
<path d="M241.5 356 L284.9 353 L300 347" stroke="#8a8e90" stroke-width="1.5" fill="none" filter="url(#b05)" opacity="0.8"/>
<path d="M310 360 L327 390 L342 435 L354 474 L360 492" stroke="#dfe3e6" stroke-width="0.9" fill="none"/>
<path d="M419.6 339 L424 390 L431.6 434.7 L437.5 464.7" stroke="#dfe3e6" stroke-width="0.9" fill="none"/>
<path d="M409 460 L407 480 L406 500" stroke="#d0d4d6" stroke-width="0.7" fill="none"/>
<path d="M242 358.5 L285 355.5 L300 349.5" stroke="#7a8086" stroke-width="4" fill="none" filter="url(#b1)"/>
<path d="M353 356 L375 359 L399 342.5 L414 336 L431 339.5 L438 349" stroke="#7a8086" stroke-width="3.5" fill="none" filter="url(#b1)"/>
<g filter="url(#b04)">
<path d="M262.4 379.4L316.3 376.0" stroke="#181b1f" stroke-width="1.8" stroke-linecap="round" opacity="0.90"/>
<path d="M263.4 381.0L316.3 377.6" stroke="#858d95" stroke-width="2.0" stroke-linecap="round" opacity="0.72"/>
<path d="M264.9 389.6L318.8 386.2" stroke="#181b1f" stroke-width="1.8" stroke-linecap="round" opacity="0.90"/>
<path d="M265.9 391.2L318.8 387.8" stroke="#858d95" stroke-width="2.0" stroke-linecap="round" opacity="0.72"/>
<path d="M267.3 399.8L321.2 396.4" stroke="#181b1f" stroke-width="1.8" stroke-linecap="round" opacity="0.90"/>
<path d="M268.3 401.4L321.2 398.0" stroke="#858d95" stroke-width="2.0" stroke-linecap="round" opacity="0.72"/>
<path d="M269.8 410.0L323.7 406.5" stroke="#181b1f" stroke-width="1.8" stroke-linecap="round" opacity="0.90"/>
<path d="M270.8 411.6L323.7 408.1" stroke="#858d95" stroke-width="2.0" stroke-linecap="round" opacity="0.72"/>
<path d="M272.2 420.2L326.1 416.7" stroke="#181b1f" stroke-width="1.8" stroke-linecap="round" opacity="0.90"/>
<path d="M273.2 421.8L326.1 418.3" stroke="#858d95" stroke-width="2.0" stroke-linecap="round" opacity="0.72"/>
<path d="M274.7 430.4L328.6 426.9" stroke="#181b1f" stroke-width="1.8" stroke-linecap="round" opacity="0.90"/>
<path d="M275.7 432.0L328.6 428.5" stroke="#858d95" stroke-width="2.0" stroke-linecap="round" opacity="0.72"/>
<path d="M277.1 440.6L331.0 437.1" stroke="#181b1f" stroke-width="1.8" stroke-linecap="round" opacity="0.90"/>
<path d="M278.1 442.2L331.0 438.7" stroke="#858d95" stroke-width="2.0" stroke-linecap="round" opacity="0.72"/>
<path d="M279.6 450.8L333.5 447.3" stroke="#181b1f" stroke-width="1.8" stroke-linecap="round" opacity="0.90"/>
<path d="M280.6 452.4L333.5 448.9" stroke="#858d95" stroke-width="2.0" stroke-linecap="round" opacity="0.72"/>
<path d="M282.0 461.0L335.9 457.5" stroke="#181b1f" stroke-width="1.8" stroke-linecap="round" opacity="0.90"/>
<path d="M283.0 462.6L335.9 459.1" stroke="#858d95" stroke-width="2.0" stroke-linecap="round" opacity="0.72"/>
<path d="M284.5 471.2L338.4 467.6" stroke="#181b1f" stroke-width="1.8" stroke-linecap="round" opacity="0.90"/>
<path d="M285.5 472.8L338.4 469.2" stroke="#858d95" stroke-width="2.0" stroke-linecap="round" opacity="0.72"/>
<path d="M286.9 481.4L340.8 477.8" stroke="#181b1f" stroke-width="1.8" stroke-linecap="round" opacity="0.90"/>
<path d="M287.9 483.0L340.8 479.4" stroke="#858d95" stroke-width="2.0" stroke-linecap="round" opacity="0.72"/>
<path d="M289.4 491.6L343.3 488.0" stroke="#181b1f" stroke-width="1.8" stroke-linecap="round" opacity="0.90"/>
<path d="M290.4 493.2L343.3 489.6" stroke="#858d95" stroke-width="2.0" stroke-linecap="round" opacity="0.72"/>
</g>
<g filter="url(#b04)">
<path d="M377.7 358.4L412.1 354.4" stroke="#181b1f" stroke-width="1.7" stroke-linecap="round" opacity="0.90"/>
<path d="M378.7 360.0L412.1 356.0" stroke="#858d95" stroke-width="1.8" stroke-linecap="round" opacity="0.72"/>
<path d="M380.0 368.4L414.1 364.4" stroke="#181b1f" stroke-width="1.7" stroke-linecap="round" opacity="0.90"/>
<path d="M381.0 370.0L414.1 366.0" stroke="#858d95" stroke-width="1.8" stroke-linecap="round" opacity="0.72"/>
<path d="M382.3 378.4L416.0 374.4" stroke="#181b1f" stroke-width="1.7" stroke-linecap="round" opacity="0.90"/>
<path d="M383.3 380.0L416.0 376.0" stroke="#858d95" stroke-width="1.8" stroke-linecap="round" opacity="0.72"/>
<path d="M384.6 388.4L418.0 384.4" stroke="#181b1f" stroke-width="1.7" stroke-linecap="round" opacity="0.90"/>
<path d="M385.6 390.0L418.0 386.0" stroke="#858d95" stroke-width="1.8" stroke-linecap="round" opacity="0.72"/>
<path d="M386.9 398.5L419.9 394.5" stroke="#181b1f" stroke-width="1.7" stroke-linecap="round" opacity="0.90"/>
<path d="M387.9 400.1L419.9 396.1" stroke="#858d95" stroke-width="1.8" stroke-linecap="round" opacity="0.72"/>
<path d="M389.2 408.5L421.9 404.5" stroke="#181b1f" stroke-width="1.7" stroke-linecap="round" opacity="0.90"/>
<path d="M390.2 410.1L421.9 406.1" stroke="#858d95" stroke-width="1.8" stroke-linecap="round" opacity="0.72"/>
<path d="M391.5 418.5L423.8 414.5" stroke="#181b1f" stroke-width="1.7" stroke-linecap="round" opacity="0.90"/>
<path d="M392.5 420.1L423.8 416.1" stroke="#858d95" stroke-width="1.8" stroke-linecap="round" opacity="0.72"/>
<path d="M393.8 428.5L425.8 424.5" stroke="#181b1f" stroke-width="1.7" stroke-linecap="round" opacity="0.90"/>
<path d="M394.8 430.1L425.8 426.1" stroke="#858d95" stroke-width="1.8" stroke-linecap="round" opacity="0.72"/>
<path d="M396.1 438.5L427.7 434.5" stroke="#181b1f" stroke-width="1.7" stroke-linecap="round" opacity="0.90"/>
<path d="M397.1 440.1L427.7 436.1" stroke="#858d95" stroke-width="1.8" stroke-linecap="round" opacity="0.72"/>
<path d="M398.4 448.5L429.7 444.5" stroke="#181b1f" stroke-width="1.7" stroke-linecap="round" opacity="0.90"/>
<path d="M399.4 450.1L429.7 446.1" stroke="#858d95" stroke-width="1.8" stroke-linecap="round" opacity="0.72"/>
<path d="M400.7 458.6L431.6 454.6" stroke="#181b1f" stroke-width="1.7" stroke-linecap="round" opacity="0.90"/>
<path d="M401.7 460.2L431.6 456.2" stroke="#858d95" stroke-width="1.8" stroke-linecap="round" opacity="0.72"/>
<path d="M403.0 468.6L433.6 464.6" stroke="#181b1f" stroke-width="1.7" stroke-linecap="round" opacity="0.90"/>
<path d="M404.0 470.2L433.6 466.2" stroke="#858d95" stroke-width="1.8" stroke-linecap="round" opacity="0.72"/>
<path d="M405.3 478.6L435.5 474.6" stroke="#181b1f" stroke-width="1.7" stroke-linecap="round" opacity="0.90"/>
<path d="M406.3 480.2L435.5 476.2" stroke="#858d95" stroke-width="1.8" stroke-linecap="round" opacity="0.72"/>
<path d="M407.6 488.6L437.5 484.6" stroke="#181b1f" stroke-width="1.7" stroke-linecap="round" opacity="0.90"/>
<path d="M408.6 490.2L437.5 486.2" stroke="#858d95" stroke-width="1.8" stroke-linecap="round" opacity="0.72"/>
</g>
<path d="M241.0 500.0 L258.0 502.0 L300.0 503.0 L340.0 502.0 L360.0 499.0 L380.0 502.0 L400.0 501.5 L443.0 500.0 L443.0 506.0 L241.0 506.0 Z" fill="#bcb8ae" filter="url(#b1)"/>
</g>
<rect x="240.8" y="316.2" width="44.2" height="18.7" fill="#fff"/>
<text x="240" y="328" font-size="14.3" fill="#000">10 mm</text>
<rect x="243.2" y="330.1" width="38" height="2.4" fill="#000"/>
<text x="1" y="554.3" font-size="14.6" font-weight="bold" fill="#000">C. UNSM 52286 "Mary Anning"</text>
<rect x="37" y="585.6" width="184.8" height="174.4" fill="none" stroke="#6e6e6e" stroke-width="1.5"/>
<path d="M31.3 757.1H37" stroke="#444" stroke-width="1"/>
<text x="24.3" y="757.1" font-size="11" text-anchor="middle" fill="#222" transform="rotate(-90 24.3 757.1)">0</text>
<path d="M31.3 720.4H37" stroke="#444" stroke-width="1"/>
<text x="24.3" y="720.4" font-size="11" text-anchor="middle" fill="#222" transform="rotate(-90 24.3 720.4)">10</text>
<path d="M31.3 683.7H37" stroke="#444" stroke-width="1"/>
<text x="24.3" y="683.7" font-size="11" text-anchor="middle" fill="#222" transform="rotate(-90 24.3 683.7)">20</text>
<path d="M31.3 647H37" stroke="#444" stroke-width="1"/>
<text x="24.3" y="647" font-size="11" text-anchor="middle" fill="#222" transform="rotate(-90 24.3 647)">30</text>
<path d="M31.3 610.3H37" stroke="#444" stroke-width="1"/>
<text x="24.3" y="610.3" font-size="11" text-anchor="middle" fill="#222" transform="rotate(-90 24.3 610.3)">40</text>
<text x="11.9" y="682.2" font-size="13.6" text-anchor="middle" fill="#222" transform="rotate(-90 11.9 682.2)">Height from cervix (mm)</text>
<path d="M43.5 760V765.5" stroke="#444" stroke-width="1"/>
<text x="45.9" y="777.5" font-size="11" text-anchor="middle" fill="#222">-10.0</text>
<path d="M80.75 760V765.5" stroke="#444" stroke-width="1"/>
<text x="83.15" y="777.5" font-size="11" text-anchor="middle" fill="#222">-8.0</text>
<path d="M118 760V765.5" stroke="#444" stroke-width="1"/>
<text x="120.4" y="777.5" font-size="11" text-anchor="middle" fill="#222">-6.0</text>
<path d="M155.25 760V765.5" stroke="#444" stroke-width="1"/>
<text x="157.65" y="777.5" font-size="11" text-anchor="middle" fill="#222">-4.0</text>
<path d="M192.5 760V765.5" stroke="#444" stroke-width="1"/>
<text x="194.9" y="777.5" font-size="11" text-anchor="middle" fill="#222">-2.0</text>
<path d="M129.6 579.8V585.6" stroke="#444" stroke-width="1"/>
<text x="129.6" y="576" font-size="11" text-anchor="middle" fill="#222">0.70855</text>
<path d="M151 579.8V585.6" stroke="#444" stroke-width="1"/>
<path d="M172.3 579.8V585.6" stroke="#444" stroke-width="1"/>
<text x="172.3" y="576" font-size="11" text-anchor="middle" fill="#222">0.70865</text>
<path d="M193.7 579.8V585.6" stroke="#444" stroke-width="1"/>
<path d="M215.1 579.8V585.6" stroke="#444" stroke-width="1"/>
<text x="215.1" y="576" font-size="11" text-anchor="middle" fill="#222">0.70875</text>
<text transform="translate(40.9 601.9) scale(0.9 1)" font-size="16.8" font-weight="bold">M</text>
<text x="53.8" y="605" font-size="11" font-weight="bold" stroke="#000" stroke-width="0.35">2</text>
<text x="70" y="601.1" font-size="13" fill="#111"><tspan font-size="8.5" dy="-6">87</tspan><tspan dy="6">Sr/</tspan><tspan font-size="8.5" dy="-6">86</tspan><tspan dy="6">Sr uncertainty</tspan></text>
<rect x="189.5" y="594.8" width="26.8" height="3.8" fill="#5e5e5e"/>
<polyline points="49.3,662.8 50.9,675.4 61.9,686.7 60.1,697.5 56.4,708.5 60.1,719.8 58.3,728.6 71.3,739.4 73.2,749" fill="none" stroke="#008a00" stroke-width="1" stroke-linejoin="round"/>
<polyline points="112.4,663.2 110.4,676.1 102.8,686.9 121.4,697.9 125.1,709.2 136.5,720.2 149.4,729.2 155.1,739.8 143.7,749.2" fill="none" stroke="#0000cd" stroke-width="1" stroke-linejoin="round"/>
<polyline points="158.9,662.9 154.7,675.7 162.9,687.1 180.4,697.9 176.1,709 176.1,719.8 176.1,729.1 167.3,740.3 133.1,749.3" fill="none" stroke="#ff8c00" stroke-width="1" stroke-linejoin="round"/>
<path d="M49.3 659.4L52.35 664.55L46.25 664.55Z" fill="#008a00"/>
<path d="M50.9 672L53.95 677.15L47.85 677.15Z" fill="#008a00"/>
<path d="M61.9 683.3L64.95 688.45L58.85 688.45Z" fill="#008a00"/>
<path d="M60.1 694.1L63.15 699.25L57.05 699.25Z" fill="#008a00"/>
<path d="M56.4 705.1L59.45 710.25L53.35 710.25Z" fill="#008a00"/>
<path d="M60.1 716.4L63.15 721.55L57.05 721.55Z" fill="#008a00"/>
<path d="M58.3 725.2L61.35 730.35L55.25 730.35Z" fill="#008a00"/>
<path d="M71.3 736L74.35 741.15L68.25 741.15Z" fill="#008a00"/>
<path d="M73.2 745.6L76.25 750.75L70.15 750.75Z" fill="#008a00"/>
<path d="M112.4 660.5L115.1 663.2L112.4 665.9L109.7 663.2Z" fill="#0000cd"/>
<path d="M110.4 673.4L113.1 676.1L110.4 678.8L107.7 676.1Z" fill="#0000cd"/>
<path d="M102.8 684.2L105.5 686.9L102.8 689.6L100.1 686.9Z" fill="#0000cd"/>
<path d="M121.4 695.2L124.1 697.9L121.4 700.6L118.7 697.9Z" fill="#0000cd"/>
<path d="M125.1 706.5L127.8 709.2L125.1 711.9L122.4 709.2Z" fill="#0000cd"/>
<path d="M136.5 717.5L139.2 720.2L136.5 722.9L133.8 720.2Z" fill="#0000cd"/>
<path d="M149.4 726.5L152.1 729.2L149.4 731.9L146.7 729.2Z" fill="#0000cd"/>
<path d="M155.1 737.1L157.8 739.8L155.1 742.5L152.4 739.8Z" fill="#0000cd"/>
<path d="M143.7 746.5L146.4 749.2L143.7 751.9L141 749.2Z" fill="#0000cd"/>
<path d="M155.9 662.9H161.9M158.9 659.9V665.9M156.78 660.78L161.02 665.02M156.78 665.02L161.02 660.78" stroke="#ff8c00" stroke-width="1" fill="none"/>
<path d="M151.7 675.7H157.7M154.7 672.7V678.7M152.58 673.58L156.82 677.82M152.58 677.82L156.82 673.58" stroke="#ff8c00" stroke-width="1" fill="none"/>
<path d="M159.9 687.1H165.9M162.9 684.1V690.1M160.78 684.98L165.02 689.22M160.78 689.22L165.02 684.98" stroke="#ff8c00" stroke-width="1" fill="none"/>
<path d="M177.4 697.9H183.4M180.4 694.9V700.9M178.28 695.78L182.52 700.02M178.28 700.02L182.52 695.78" stroke="#ff8c00" stroke-width="1" fill="none"/>
<path d="M173.1 709H179.1M176.1 706V712M173.98 706.88L178.22 711.12M173.98 711.12L178.22 706.88" stroke="#ff8c00" stroke-width="1" fill="none"/>
<path d="M173.1 719.8H179.1M176.1 716.8V722.8M173.98 717.68L178.22 721.92M173.98 721.92L178.22 717.68" stroke="#ff8c00" stroke-width="1" fill="none"/>
<path d="M173.1 729.1H179.1M176.1 726.1V732.1M173.98 726.98L178.22 731.22M173.98 731.22L178.22 726.98" stroke="#ff8c00" stroke-width="1" fill="none"/>
<path d="M164.3 740.3H170.3M167.3 737.3V743.3M165.18 738.18L169.42 742.42M165.18 742.42L169.42 738.18" stroke="#ff8c00" stroke-width="1" fill="none"/>
<circle cx="133.1" cy="749.3" r="2.8" fill="#fff" stroke="#ff8c00" stroke-width="1"/>
<rect x="464.4" y="585.6" width="184.8" height="174.4" fill="none" stroke="#6e6e6e" stroke-width="1.5"/>
<path d="M649.2 757.1H654.7" stroke="#444" stroke-width="1"/>
<text x="669.6" y="757.1" font-size="11" text-anchor="middle" fill="#222" transform="rotate(-90 669.6 757.1)">0</text>
<path d="M649.2 720.4H654.7" stroke="#444" stroke-width="1"/>
<text x="669.6" y="720.4" font-size="11" text-anchor="middle" fill="#222" transform="rotate(-90 669.6 720.4)">10</text>
<path d="M649.2 683.7H654.7" stroke="#444" stroke-width="1"/>
<text x="669.6" y="683.7" font-size="11" text-anchor="middle" fill="#222" transform="rotate(-90 669.6 683.7)">20</text>
<path d="M649.2 647H654.7" stroke="#444" stroke-width="1"/>
<text x="669.6" y="647" font-size="11" text-anchor="middle" fill="#222" transform="rotate(-90 669.6 647)">30</text>
<path d="M649.2 610.3H654.7" stroke="#444" stroke-width="1"/>
<text x="669.6" y="610.3" font-size="11" text-anchor="middle" fill="#222" transform="rotate(-90 669.6 610.3)">40</text>
<text x="681.6" y="682.2" font-size="13.6" text-anchor="middle" fill="#222" transform="rotate(-90 681.6 682.2)">Height from cervix (mm)</text>
<path d="M470.8 760V765.5" stroke="#444" stroke-width="1"/>
<text x="473.2" y="777.5" font-size="11" text-anchor="middle" fill="#222">-10.0</text>
<path d="M508.05 760V765.5" stroke="#444" stroke-width="1"/>
<text x="510.45" y="777.5" font-size="11" text-anchor="middle" fill="#222">-8.0</text>
<path d="M545.3 760V765.5" stroke="#444" stroke-width="1"/>
<text x="547.7" y="777.5" font-size="11" text-anchor="middle" fill="#222">-6.0</text>
<path d="M582.55 760V765.5" stroke="#444" stroke-width="1"/>
<text x="584.95" y="777.5" font-size="11" text-anchor="middle" fill="#222">-4.0</text>
<path d="M619.8 760V765.5" stroke="#444" stroke-width="1"/>
<text x="622.2" y="777.5" font-size="11" text-anchor="middle" fill="#222">-2.0</text>
<path d="M556.9 579.8V585.6" stroke="#444" stroke-width="1"/>
<text x="556.9" y="576" font-size="11" text-anchor="middle" fill="#222">0.70855</text>
<path d="M578.3 579.8V585.6" stroke="#444" stroke-width="1"/>
<path d="M599.6 579.8V585.6" stroke="#444" stroke-width="1"/>
<text x="599.6" y="576" font-size="11" text-anchor="middle" fill="#222">0.70865</text>
<path d="M621 579.8V585.6" stroke="#444" stroke-width="1"/>
<path d="M642.4 579.8V585.6" stroke="#444" stroke-width="1"/>
<text x="642.4" y="576" font-size="11" text-anchor="middle" fill="#222">0.70875</text>
<text transform="translate(468.3 601.9) scale(0.9 1)" font-size="16.8" font-weight="bold">M</text>
<text x="481.2" y="605" font-size="11" font-weight="bold" stroke="#000" stroke-width="0.35">3</text>
<text x="497.4" y="601.1" font-size="13" fill="#111"><tspan font-size="8.5" dy="-6">87</tspan><tspan dy="6">Sr/</tspan><tspan font-size="8.5" dy="-6">86</tspan><tspan dy="6">Sr uncertainty</tspan></text>
<rect x="615.7" y="594.8" width="26.8" height="3.8" fill="#5e5e5e"/>
<polyline points="470.4,650.2 476,662.8 483.7,673.5 483.7,684.7 485.6,696 481.4,704.8 477.8,714 476,724.9 481.8,736.1 480,743.6" fill="none" stroke="#008a00" stroke-width="1" stroke-linejoin="round"/>
<polyline points="567.3,650.4 537.9,663.3 541.4,674.2 528.1,685.2 550.7,696.2 558.2,705.3 559.8,714.6 545.1,725.4 526.4,736.6 511.5,743.8" fill="none" stroke="#0000cd" stroke-width="1" stroke-linejoin="round"/>
<polyline points="603.5,650.4 598.8,663 598.8,674.2 594.6,685 616.4,696.2 598.8,705.1 607.7,714.6 611.7,725.4 607.7,736.4 607.7,743.8" fill="none" stroke="#ff8c00" stroke-width="1" stroke-linejoin="round"/>
<path d="M470.4 646.8L473.45 651.95L467.35 651.95Z" fill="#008a00"/>
<path d="M476 659.4L479.05 664.55L472.95 664.55Z" fill="#008a00"/>
<path d="M483.7 670.1L486.75 675.25L480.65 675.25Z" fill="#008a00"/>
<path d="M483.7 681.3L486.75 686.45L480.65 686.45Z" fill="#008a00"/>
<path d="M485.6 692.6L488.65 697.75L482.55 697.75Z" fill="#008a00"/>
<path d="M481.4 701.4L484.45 706.55L478.35 706.55Z" fill="#008a00"/>
<path d="M477.8 710.6L480.85 715.75L474.75 715.75Z" fill="#008a00"/>
<path d="M476 721.5L479.05 726.65L472.95 726.65Z" fill="#008a00"/>
<path d="M481.8 732.7L484.85 737.85L478.75 737.85Z" fill="#008a00"/>
<path d="M480 740.2L483.05 745.35L476.95 745.35Z" fill="#008a00"/>
<path d="M567.3 647.7L570 650.4L567.3 653.1L564.6 650.4Z" fill="#0000cd"/>
<path d="M537.9 660.6L540.6 663.3L537.9 666L535.2 663.3Z" fill="#0000cd"/>
<path d="M541.4 671.5L544.1 674.2L541.4 676.9L538.7 674.2Z" fill="#0000cd"/>
<path d="M528.1 682.5L530.8 685.2L528.1 687.9L525.4 685.2Z" fill="#0000cd"/>
<path d="M550.7 693.5L553.4 696.2L550.7 698.9L548 696.2Z" fill="#0000cd"/>
<path d="M558.2 702.6L560.9 705.3L558.2 708L555.5 705.3Z" fill="#0000cd"/>
<path d="M559.8 711.9L562.5 714.6L559.8 717.3L557.1 714.6Z" fill="#0000cd"/>
<path d="M545.1 722.7L547.8 725.4L545.1 728.1L542.4 725.4Z" fill="#0000cd"/>
<path d="M526.4 733.9L529.1 736.6L526.4 739.3L523.7 736.6Z" fill="#0000cd"/>
<path d="M511.5 741.1L514.2 743.8L511.5 746.5L508.8 743.8Z" fill="#0000cd"/>
<path d="M600.5 650.4H606.5M603.5 647.4V653.4M601.38 648.28L605.62 652.52M601.38 652.52L605.62 648.28" stroke="#ff8c00" stroke-width="1" fill="none"/>
<path d="M595.8 663H601.8M598.8 660V666M596.68 660.88L600.92 665.12M596.68 665.12L600.92 660.88" stroke="#ff8c00" stroke-width="1" fill="none"/>
<path d="M595.8 674.2H601.8M598.8 671.2V677.2M596.68 672.08L600.92 676.32M596.68 676.32L600.92 672.08" stroke="#ff8c00" stroke-width="1" fill="none"/>
<path d="M591.6 685H597.6M594.6 682V688M592.48 682.88L596.72 687.12M592.48 687.12L596.72 682.88" stroke="#ff8c00" stroke-width="1" fill="none"/>
<path d="M613.4 696.2H619.4M616.4 693.2V699.2M614.28 694.08L618.52 698.32M614.28 698.32L618.52 694.08" stroke="#ff8c00" stroke-width="1" fill="none"/>
<path d="M595.8 705.1H601.8M598.8 702.1V708.1M596.68 702.98L600.92 707.22M596.68 707.22L600.92 702.98" stroke="#ff8c00" stroke-width="1" fill="none"/>
<path d="M604.7 714.6H610.7M607.7 711.6V717.6M605.58 712.48L609.82 716.72M605.58 716.72L609.82 712.48" stroke="#ff8c00" stroke-width="1" fill="none"/>
<path d="M608.7 725.4H614.7M611.7 722.4V728.4M609.58 723.28L613.82 727.52M609.58 727.52L613.82 723.28" stroke="#ff8c00" stroke-width="1" fill="none"/>
<path d="M604.7 736.4H610.7M607.7 733.4V739.4M605.58 734.28L609.82 738.52M605.58 738.52L609.82 734.28" stroke="#ff8c00" stroke-width="1" fill="none"/>
<path d="M604.7 743.8H610.7M607.7 740.8V746.8M605.58 741.68L609.82 745.92M605.58 745.92L609.82 741.68" stroke="#ff8c00" stroke-width="1" fill="none"/>
<g clip-path="url(#cC)">
<rect x="241" y="581" width="98" height="182" fill="#9a8e76"/>
<rect x="338.8" y="581" width="105" height="182" fill="#b4b2aa"/>
<g filter="url(#b2)">
<rect x="250" y="581" width="89" height="18" fill="#a89e88"/>
<ellipse cx="300" cy="620" rx="32" ry="6" fill="#6e604a"/>
<ellipse cx="262" cy="606" rx="12" ry="8" fill="#7e725c"/>
<ellipse cx="283" cy="634" rx="20" ry="8" fill="#b8aa8c"/>
<ellipse cx="350" cy="600" rx="10" ry="20" fill="#a4a8ac"/>
<ellipse cx="385" cy="605" rx="22" ry="24" fill="#c8c4b8"/>
<ellipse cx="432" cy="590" rx="12" ry="10" fill="#8a8070"/>
<ellipse cx="365" cy="612" rx="4" ry="12" fill="#7a7268"/>
</g>
<path d="M340.0 630.0 L348.0 660.0 L356.0 700.0 L366.0 745.0 L352.0 752.0 L339.0 752.0 Z" fill="#3a342c" filter="url(#b1)"/>
<path d="M241.5 616.0 L244.0 612.5 L250.0 612.0 L255.0 616.0 L258.4 630.7 L270.7 639.9 L286.0 644.5 L304.4 635.3 L319.7 620.0 L326.0 615.0 L332.0 614.6 L338.0 616.9 L339.0 664.8 L339.0 742.6 L329.8 751.6 L262.0 751.6 L256.0 720.0 L251.0 690.0 L243.0 660.0 Z" fill="url(#t1C)"/>
<path d="M241.5 614.0 L244.0 612.0 L250.0 612.0 L255.0 616.0 L258.4 630.7 L270.7 639.9 L286.0 644.5 L304.4 635.3 L319.7 620.0 L326.0 615.0 L332.0 614.6 L338.0 617.0 L338.0 630.0 L334.0 636.0 L322.0 642.0 L304.4 650.0 L286.0 655.0 L268.0 650.0 L256.0 642.0 L248.0 634.0 L241.5 632.0 Z" fill="#b9b09a" filter="url(#b05)"/>
<path d="M242 614 L250 613 L255 617 L258.4 631 L270.7 640 L286 644.5 L304.4 635.3 L319.7 620 L326 615.5 L332 615 L337 617.5" stroke="#46505e" stroke-width="2" fill="none" filter="url(#b05)" opacity="0.85"/>
<path d="M243 622 L251 624 L258 634 L270 643 L286 648 L304 640 L320 627 L330 621 L337 623" stroke="#d8d0bc" stroke-width="2" fill="none" filter="url(#b05)" opacity="0.8"/>
<path d="M241.5 632 L248 634 L256 642 L268 650 L286 655 L304.4 650 L322 642 L334 636 L338 631" stroke="#56606e" stroke-width="1.8" fill="none" filter="url(#b05)" opacity="0.75"/>
<rect x="262" y="738" width="72" height="14" fill="#8a7858" filter="url(#b1)" opacity="0.75"/>
<path d="M341.0 618.5 L347.4 624.8 L358.3 627.9 L377.0 634.0 L392.7 635.7 L408.3 627.9 L414.6 612.3 L420.8 601.3 L428.6 600.5 L438.0 607.6 L441.9 618.5 L442.5 700.0 L442.0 748.6 L419.6 754.6 L377.7 754.6 L365.7 742.6 L356.0 700.0 L348.0 660.0 L342.0 630.0 Z" fill="url(#t2C)"/>
<path d="M342 620 L347.4 626 L358.3 629.5 L377 635.5 L392.7 637 L408.3 629.5 L414.6 614 L420.8 603 L428.6 602 L437 609" stroke="#dde0e2" stroke-width="3" fill="none" filter="url(#b1)"/>
<ellipse cx="425" cy="617" rx="8" ry="10" fill="#d8ceb4" filter="url(#b2)" opacity="0.8"/>
<path d="M342 622 L348 660 L356 700 L364 745" stroke="#4a4238" stroke-width="2.5" fill="none" filter="url(#b05)" opacity="0.8"/>
<path d="M315 671 L321 710 L327 743" stroke="#e8e8e4" stroke-width="0.9" fill="none"/>
<path d="M395 680 L388 720 L384 750" stroke="#eef0f2" stroke-width="0.8" fill="none"/>
<circle cx="375" cy="660" r="1.2" fill="#3a4660" opacity="0.6"/>
<circle cx="360" cy="672" r="1.2" fill="#3a4660" opacity="0.6"/>
<circle cx="398" cy="690" r="1.2" fill="#3a4660" opacity="0.6"/>
<circle cx="370" cy="700" r="1.2" fill="#3a4660" opacity="0.6"/>
<circle cx="380" cy="720" r="1.2" fill="#3a4660" opacity="0.6"/>
<circle cx="420" cy="700" r="1.2" fill="#3a4660" opacity="0.6"/>
<circle cx="365" cy="650" r="1.2" fill="#3a4660" opacity="0.6"/>
<g filter="url(#b04)">
<path d="M266.9 676.8L304.4 676.8" stroke="#3a4254" stroke-width="1.4" stroke-linecap="round" opacity="0.85"/>
<path d="M267.9 678.4L304.4 678.4" stroke="#b4b2a8" stroke-width="0.9" stroke-linecap="round" opacity="0.68"/>
<path d="M267.2 685.8L304.7 685.8" stroke="#3a4254" stroke-width="1.4" stroke-linecap="round" opacity="0.85"/>
<path d="M268.2 687.4L304.7 687.4" stroke="#b4b2a8" stroke-width="0.9" stroke-linecap="round" opacity="0.68"/>
<path d="M267.6 694.7L305.1 694.7" stroke="#3a4254" stroke-width="1.4" stroke-linecap="round" opacity="0.85"/>
<path d="M268.6 696.3L305.1 696.3" stroke="#b4b2a8" stroke-width="0.9" stroke-linecap="round" opacity="0.68"/>
<path d="M267.9 703.7L305.4 703.7" stroke="#3a4254" stroke-width="1.4" stroke-linecap="round" opacity="0.85"/>
<path d="M268.9 705.3L305.4 705.3" stroke="#b4b2a8" stroke-width="0.9" stroke-linecap="round" opacity="0.68"/>
<path d="M268.2 712.7L305.7 712.7" stroke="#3a4254" stroke-width="1.4" stroke-linecap="round" opacity="0.85"/>
<path d="M269.2 714.3L305.7 714.3" stroke="#b4b2a8" stroke-width="0.9" stroke-linecap="round" opacity="0.68"/>
<path d="M268.6 721.6L306.1 721.6" stroke="#3a4254" stroke-width="1.4" stroke-linecap="round" opacity="0.85"/>
<path d="M269.6 723.2L306.1 723.2" stroke="#b4b2a8" stroke-width="0.9" stroke-linecap="round" opacity="0.68"/>
<path d="M268.9 730.6L306.4 730.6" stroke="#3a4254" stroke-width="1.4" stroke-linecap="round" opacity="0.85"/>
<path d="M269.9 732.2L306.4 732.2" stroke="#b4b2a8" stroke-width="0.9" stroke-linecap="round" opacity="0.68"/>
</g>
<g filter="url(#b04)">
<path d="M384.9 653.7L422.4 653.7" stroke="#2a3244" stroke-width="1.5" stroke-linecap="round" opacity="0.85"/>
<path d="M385.9 655.3L422.4 655.3" stroke="#e0e4e8" stroke-width="1.0" stroke-linecap="round" opacity="0.68"/>
<path d="M385.6 662.3L423.0 662.3" stroke="#2a3244" stroke-width="1.5" stroke-linecap="round" opacity="0.85"/>
<path d="M386.6 663.9L423.0 663.9" stroke="#e0e4e8" stroke-width="1.0" stroke-linecap="round" opacity="0.68"/>
<path d="M386.3 671.0L423.6 671.0" stroke="#2a3244" stroke-width="1.5" stroke-linecap="round" opacity="0.85"/>
<path d="M387.3 672.6L423.6 672.6" stroke="#e0e4e8" stroke-width="1.0" stroke-linecap="round" opacity="0.68"/>
<path d="M387.0 679.6L424.2 679.6" stroke="#2a3244" stroke-width="1.5" stroke-linecap="round" opacity="0.85"/>
<path d="M388.0 681.2L424.2 681.2" stroke="#e0e4e8" stroke-width="1.0" stroke-linecap="round" opacity="0.68"/>
<path d="M387.7 688.2L424.8 688.2" stroke="#2a3244" stroke-width="1.5" stroke-linecap="round" opacity="0.85"/>
<path d="M388.7 689.8L424.8 689.8" stroke="#e0e4e8" stroke-width="1.0" stroke-linecap="round" opacity="0.68"/>
<path d="M388.4 696.8L425.4 696.8" stroke="#2a3244" stroke-width="1.5" stroke-linecap="round" opacity="0.85"/>
<path d="M389.4 698.4L425.4 698.4" stroke="#e0e4e8" stroke-width="1.0" stroke-linecap="round" opacity="0.68"/>
<path d="M389.2 705.5L426.0 705.5" stroke="#2a3244" stroke-width="1.5" stroke-linecap="round" opacity="0.85"/>
<path d="M390.2 707.1L426.0 707.1" stroke="#e0e4e8" stroke-width="1.0" stroke-linecap="round" opacity="0.68"/>
<path d="M389.9 714.1L426.6 714.1" stroke="#2a3244" stroke-width="1.5" stroke-linecap="round" opacity="0.85"/>
<path d="M390.9 715.7L426.6 715.7" stroke="#e0e4e8" stroke-width="1.0" stroke-linecap="round" opacity="0.68"/>
<path d="M390.6 722.7L427.2 722.7" stroke="#2a3244" stroke-width="1.5" stroke-linecap="round" opacity="0.85"/>
<path d="M391.6 724.3L427.2 724.3" stroke="#e0e4e8" stroke-width="1.0" stroke-linecap="round" opacity="0.68"/>
<path d="M391.3 731.3L427.8 731.3" stroke="#2a3244" stroke-width="1.5" stroke-linecap="round" opacity="0.85"/>
<path d="M392.3 732.9L427.8 732.9" stroke="#e0e4e8" stroke-width="1.0" stroke-linecap="round" opacity="0.68"/>
<path d="M392.0 740.0L428.4 740.0" stroke="#2a3244" stroke-width="1.5" stroke-linecap="round" opacity="0.85"/>
<path d="M393.0 741.6L428.4 741.6" stroke="#e0e4e8" stroke-width="1.0" stroke-linecap="round" opacity="0.68"/>
<path d="M392.7 748.6L429.0 748.6" stroke="#2a3244" stroke-width="1.5" stroke-linecap="round" opacity="0.85"/>
<path d="M393.7 750.2L429.0 750.2" stroke="#e0e4e8" stroke-width="1.0" stroke-linecap="round" opacity="0.68"/>
</g>
<path d="M241.0 750.0 L262.0 752.0 L300.0 753.0 L330.0 752.0 L345.0 748.0 L365.0 750.0 L380.0 756.0 L420.0 757.0 L443.0 755.0 L443.0 763.0 L241.0 763.0 Z" fill="#a49a86" filter="url(#b1)"/>
<path d="M416 763.5 L445 756 L445 764 Z" fill="#fff"/>
</g>
<rect x="240.8" y="581.2" width="44.2" height="18.7" fill="#fff"/>
<text x="240" y="593" font-size="14.3" fill="#000">10 mm</text>
<rect x="243.2" y="595.1" width="38" height="2.4" fill="#000"/>
<text x="1" y="813.8" font-size="14.6" font-weight="bold" fill="#000">D. UNSM 27807 "Sparky"</text>
<rect x="37" y="845.1" width="184.8" height="174.4" fill="none" stroke="#6e6e6e" stroke-width="1.5"/>
<path d="M31.3 1016.6H37" stroke="#444" stroke-width="1"/>
<text x="24.3" y="1016.6" font-size="11" text-anchor="middle" fill="#222" transform="rotate(-90 24.3 1016.6)">0</text>
<path d="M31.3 979.9H37" stroke="#444" stroke-width="1"/>
<text x="24.3" y="979.9" font-size="11" text-anchor="middle" fill="#222" transform="rotate(-90 24.3 979.9)">10</text>
<path d="M31.3 943.2H37" stroke="#444" stroke-width="1"/>
<text x="24.3" y="943.2" font-size="11" text-anchor="middle" fill="#222" transform="rotate(-90 24.3 943.2)">20</text>
<path d="M31.3 906.5H37" stroke="#444" stroke-width="1"/>
<text x="24.3" y="906.5" font-size="11" text-anchor="middle" fill="#222" transform="rotate(-90 24.3 906.5)">30</text>
<path d="M31.3 869.8H37" stroke="#444" stroke-width="1"/>
<text x="24.3" y="869.8" font-size="11" text-anchor="middle" fill="#222" transform="rotate(-90 24.3 869.8)">40</text>
<text x="11.9" y="941.7" font-size="13.6" text-anchor="middle" fill="#222" transform="rotate(-90 11.9 941.7)">Height from cervix (mm)</text>
<path d="M43.5 1019.5V1025" stroke="#444" stroke-width="1"/>
<text x="45.9" y="1037" font-size="11" text-anchor="middle" fill="#222">-10.0</text>
<path d="M80.75 1019.5V1025" stroke="#444" stroke-width="1"/>
<text x="83.15" y="1037" font-size="11" text-anchor="middle" fill="#222">-8.0</text>
<path d="M118 1019.5V1025" stroke="#444" stroke-width="1"/>
<text x="120.4" y="1037" font-size="11" text-anchor="middle" fill="#222">-6.0</text>
<path d="M155.25 1019.5V1025" stroke="#444" stroke-width="1"/>
<text x="157.65" y="1037" font-size="11" text-anchor="middle" fill="#222">-4.0</text>
<path d="M192.5 1019.5V1025" stroke="#444" stroke-width="1"/>
<text x="194.9" y="1037" font-size="11" text-anchor="middle" fill="#222">-2.0</text>
<path d="M129.6 839.3V845.1" stroke="#444" stroke-width="1"/>
<text x="129.6" y="835.5" font-size="11" text-anchor="middle" fill="#222">0.70855</text>
<path d="M151 839.3V845.1" stroke="#444" stroke-width="1"/>
<path d="M172.3 839.3V845.1" stroke="#444" stroke-width="1"/>
<text x="172.3" y="835.5" font-size="11" text-anchor="middle" fill="#222">0.70865</text>
<path d="M193.7 839.3V845.1" stroke="#444" stroke-width="1"/>
<path d="M215.1 839.3V845.1" stroke="#444" stroke-width="1"/>
<text x="215.1" y="835.5" font-size="11" text-anchor="middle" fill="#222">0.70875</text>
<text transform="translate(40.9 861.4) scale(0.9 1)" font-size="16.8" font-weight="bold">M</text>
<text x="53.8" y="864.5" font-size="11" font-weight="bold" stroke="#000" stroke-width="0.35">2</text>
<text x="70" y="860.6" font-size="13" fill="#111"><tspan font-size="8.5" dy="-6">87</tspan><tspan dy="6">Sr/</tspan><tspan font-size="8.5" dy="-6">86</tspan><tspan dy="6">Sr uncertainty</tspan></text>
<rect x="189.5" y="854.3" width="26.8" height="3.8" fill="#5e5e5e"/>
<polyline points="62.2,882.1 67.6,893.4 73.2,904.6 71.3,915.1 67.6,926.1 63.9,935.4 69.7,948.3 73.2,963 63.9,970.4 54.5,981.4 71.3,991.9 59.7,999.2 80.7,1009" fill="none" stroke="#008a00" stroke-width="1" stroke-linejoin="round"/>
<polyline points="90,882.8 121.8,893.6 140.2,904.6 125.3,915.8 149.6,926.8 153.1,935.9 129.3,948.7 97.5,963.2 99.1,970.9 110.6,981.7 127.2,992.4 103.1,999.9 140.2,1009.2" fill="none" stroke="#0000cd" stroke-width="1" stroke-linejoin="round"/>
<polyline points="202,882.8 197.7,893.4 197.7,904.7 197.7,915.7 202,926.6 214.7,936 193.3,948.8 197.7,963.4 202,970.4 202,982 184.8,992.9 202,999.9 202,1009.4" fill="none" stroke="#ff8c00" stroke-width="1" stroke-linejoin="round"/>
<path d="M62.2 878.7L65.25 883.85L59.15 883.85Z" fill="#008a00"/>
<path d="M67.6 890L70.65 895.15L64.55 895.15Z" fill="#008a00"/>
<path d="M73.2 901.2L76.25 906.35L70.15 906.35Z" fill="#008a00"/>
<path d="M71.3 911.7L74.35 916.85L68.25 916.85Z" fill="#008a00"/>
<path d="M67.6 922.7L70.65 927.85L64.55 927.85Z" fill="#008a00"/>
<path d="M63.9 932L66.95 937.15L60.85 937.15Z" fill="#008a00"/>
<path d="M69.7 944.9L72.75 950.05L66.65 950.05Z" fill="#008a00"/>
<path d="M73.2 959.6L76.25 964.75L70.15 964.75Z" fill="#008a00"/>
<path d="M63.9 967L66.95 972.15L60.85 972.15Z" fill="#008a00"/>
<path d="M54.5 978L57.55 983.15L51.45 983.15Z" fill="#008a00"/>
<path d="M71.3 988.5L74.35 993.65L68.25 993.65Z" fill="#008a00"/>
<path d="M59.7 995.8L62.75 1000.95L56.65 1000.95Z" fill="#008a00"/>
<path d="M80.7 1005.6L83.75 1010.75L77.65 1010.75Z" fill="#008a00"/>
<path d="M90 880.1L92.7 882.8L90 885.5L87.3 882.8Z" fill="#0000cd"/>
<path d="M121.8 890.9L124.5 893.6L121.8 896.3L119.1 893.6Z" fill="#0000cd"/>
<path d="M140.2 901.9L142.9 904.6L140.2 907.3L137.5 904.6Z" fill="#0000cd"/>
<path d="M125.3 913.1L128 915.8L125.3 918.5L122.6 915.8Z" fill="#0000cd"/>
<path d="M149.6 924.1L152.3 926.8L149.6 929.5L146.9 926.8Z" fill="#0000cd"/>
<path d="M153.1 933.2L155.8 935.9L153.1 938.6L150.4 935.9Z" fill="#0000cd"/>
<path d="M129.3 946L132 948.7L129.3 951.4L126.6 948.7Z" fill="#0000cd"/>
<path d="M97.5 960.5L100.2 963.2L97.5 965.9L94.8 963.2Z" fill="#0000cd"/>
<path d="M99.1 968.2L101.8 970.9L99.1 973.6L96.4 970.9Z" fill="#0000cd"/>
<path d="M110.6 979L113.3 981.7L110.6 984.4L107.9 981.7Z" fill="#0000cd"/>
<path d="M127.2 989.7L129.9 992.4L127.2 995.1L124.5 992.4Z" fill="#0000cd"/>
<path d="M103.1 997.2L105.8 999.9L103.1 1002.6L100.4 999.9Z" fill="#0000cd"/>
<path d="M140.2 1006.5L142.9 1009.2L140.2 1011.9L137.5 1009.2Z" fill="#0000cd"/>
<path d="M199 882.8H205M202 879.8V885.8M199.88 880.68L204.12 884.92M199.88 884.92L204.12 880.68" stroke="#ff8c00" stroke-width="1" fill="none"/>
<path d="M194.7 893.4H200.7M197.7 890.4V896.4M195.58 891.28L199.82 895.52M195.58 895.52L199.82 891.28" stroke="#ff8c00" stroke-width="1" fill="none"/>
<path d="M194.7 904.7H200.7M197.7 901.7V907.7M195.58 902.58L199.82 906.82M195.58 906.82L199.82 902.58" stroke="#ff8c00" stroke-width="1" fill="none"/>
<path d="M194.7 915.7H200.7M197.7 912.7V918.7M195.58 913.58L199.82 917.82M195.58 917.82L199.82 913.58" stroke="#ff8c00" stroke-width="1" fill="none"/>
<path d="M199 926.6H205M202 923.6V929.6M199.88 924.48L204.12 928.72M199.88 928.72L204.12 924.48" stroke="#ff8c00" stroke-width="1" fill="none"/>
<path d="M211.7 936H217.7M214.7 933V939M212.58 933.88L216.82 938.12M212.58 938.12L216.82 933.88" stroke="#ff8c00" stroke-width="1" fill="none"/>
<path d="M190.3 948.8H196.3M193.3 945.8V951.8M191.18 946.68L195.42 950.92M191.18 950.92L195.42 946.68" stroke="#ff8c00" stroke-width="1" fill="none"/>
<path d="M194.7 963.4H200.7M197.7 960.4V966.4M195.58 961.28L199.82 965.52M195.58 965.52L199.82 961.28" stroke="#ff8c00" stroke-width="1" fill="none"/>
<path d="M199 970.4H205M202 967.4V973.4M199.88 968.28L204.12 972.52M199.88 972.52L204.12 968.28" stroke="#ff8c00" stroke-width="1" fill="none"/>
<path d="M199 982H205M202 979V985M199.88 979.88L204.12 984.12M199.88 984.12L204.12 979.88" stroke="#ff8c00" stroke-width="1" fill="none"/>
<path d="M181.8 992.9H187.8M184.8 989.9V995.9M182.68 990.78L186.92 995.02M182.68 995.02L186.92 990.78" stroke="#ff8c00" stroke-width="1" fill="none"/>
<path d="M199 999.9H205M202 996.9V1002.9M199.88 997.78L204.12 1002.02M199.88 1002.02L204.12 997.78" stroke="#ff8c00" stroke-width="1" fill="none"/>
<path d="M199 1009.4H205M202 1006.4V1012.4M199.88 1007.28L204.12 1011.52M199.88 1011.52L204.12 1007.28" stroke="#ff8c00" stroke-width="1" fill="none"/>
<text x="119.2" y="1054.6" font-size="13.2" font-weight="bold" text-anchor="middle"><tspan font-weight="normal" font-size="14.5">δ</tspan><tspan font-size="9.5" dy="-5">13</tspan><tspan dy="5">C &amp; </tspan><tspan font-weight="normal" font-size="14.5">δ</tspan><tspan font-size="9.5" dy="-5">18</tspan><tspan dy="5">O</tspan><tspan font-size="8.8" dy="2">VPDB</tspan><tspan dy="-2"> (‰)</tspan></text>
<rect x="464.4" y="845.1" width="184.8" height="174.4" fill="none" stroke="#6e6e6e" stroke-width="1.5"/>
<path d="M649.2 1016.6H654.7" stroke="#444" stroke-width="1"/>
<text x="669.6" y="1016.6" font-size="11" text-anchor="middle" fill="#222" transform="rotate(-90 669.6 1016.6)">0</text>
<path d="M649.2 979.9H654.7" stroke="#444" stroke-width="1"/>
<text x="669.6" y="979.9" font-size="11" text-anchor="middle" fill="#222" transform="rotate(-90 669.6 979.9)">10</text>
<path d="M649.2 943.2H654.7" stroke="#444" stroke-width="1"/>
<text x="669.6" y="943.2" font-size="11" text-anchor="middle" fill="#222" transform="rotate(-90 669.6 943.2)">20</text>
<path d="M649.2 906.5H654.7" stroke="#444" stroke-width="1"/>
<text x="669.6" y="906.5" font-size="11" text-anchor="middle" fill="#222" transform="rotate(-90 669.6 906.5)">30</text>
<path d="M649.2 869.8H654.7" stroke="#444" stroke-width="1"/>
<text x="669.6" y="869.8" font-size="11" text-anchor="middle" fill="#222" transform="rotate(-90 669.6 869.8)">40</text>
<text x="681.6" y="941.7" font-size="13.6" text-anchor="middle" fill="#222" transform="rotate(-90 681.6 941.7)">Height from cervix (mm)</text>
<path d="M470.8 1019.5V1025" stroke="#444" stroke-width="1"/>
<text x="473.2" y="1037" font-size="11" text-anchor="middle" fill="#222">-10.0</text>
<path d="M508.05 1019.5V1025" stroke="#444" stroke-width="1"/>
<text x="510.45" y="1037" font-size="11" text-anchor="middle" fill="#222">-8.0</text>
<path d="M545.3 1019.5V1025" stroke="#444" stroke-width="1"/>
<text x="547.7" y="1037" font-size="11" text-anchor="middle" fill="#222">-6.0</text>
<path d="M582.55 1019.5V1025" stroke="#444" stroke-width="1"/>
<text x="584.95" y="1037" font-size="11" text-anchor="middle" fill="#222">-4.0</text>
<path d="M619.8 1019.5V1025" stroke="#444" stroke-width="1"/>
<text x="622.2" y="1037" font-size="11" text-anchor="middle" fill="#222">-2.0</text>
<path d="M556.9 839.3V845.1" stroke="#444" stroke-width="1"/>
<text x="556.9" y="835.5" font-size="11" text-anchor="middle" fill="#222">0.70855</text>
<path d="M578.3 839.3V845.1" stroke="#444" stroke-width="1"/>
<path d="M599.6 839.3V845.1" stroke="#444" stroke-width="1"/>
<text x="599.6" y="835.5" font-size="11" text-anchor="middle" fill="#222">0.70865</text>
<path d="M621 839.3V845.1" stroke="#444" stroke-width="1"/>
<path d="M642.4 839.3V845.1" stroke="#444" stroke-width="1"/>
<text x="642.4" y="835.5" font-size="11" text-anchor="middle" fill="#222">0.70875</text>
<text transform="translate(468.3 861.4) scale(0.9 1)" font-size="16.8" font-weight="bold">M</text>
<text x="481.2" y="864.5" font-size="11" font-weight="bold" stroke="#000" stroke-width="0.35">3</text>
<text x="497.4" y="860.6" font-size="13" fill="#111"><tspan font-size="8.5" dy="-6">87</tspan><tspan dy="6">Sr/</tspan><tspan font-size="8.5" dy="-6">86</tspan><tspan dy="6">Sr uncertainty</tspan></text>
<rect x="615.7" y="854.3" width="26.8" height="3.8" fill="#5e5e5e"/>
<polyline points="496.5,882.6 498.4,893.4 503.9,902.6 509.7,913.6 503.9,926.7 503.9,937.5 505.7,948.6 507.8,957.5 505.7,968.8 507.8,979.3 502,990.3 500.2,1001.1 498.4,1012.7" fill="none" stroke="#008a00" stroke-width="1" stroke-linejoin="round"/>
<polyline points="552.5,882.6 554.3,893.9 539.6,903.1 543,913.9 520.4,926.7 522.5,937.8 541.2,948.6 556.2,957.7 548.8,968.8 537.8,979.6 518.9,990.6 517,1001.6 543,1012.9" fill="none" stroke="#0000cd" stroke-width="1" stroke-linejoin="round"/>
<polyline points="633.2,882.6 633.2,893.9 637.4,902.6 628.7,913.9 624.5,926.7 628.7,937.8 615.5,948.6 633.2,957.7 628.7,968.8 624.5,979.6 628.7,990.6 628.7,1001.6 620,1012.9" fill="none" stroke="#ff8c00" stroke-width="1" stroke-linejoin="round"/>
<path d="M496.5 879.2L499.55 884.35L493.45 884.35Z" fill="#008a00"/>
<path d="M498.4 890L501.45 895.15L495.35 895.15Z" fill="#008a00"/>
<path d="M503.9 899.2L506.95 904.35L500.85 904.35Z" fill="#008a00"/>
<path d="M509.7 910.2L512.75 915.35L506.65 915.35Z" fill="#008a00"/>
<path d="M503.9 923.3L506.95 928.45L500.85 928.45Z" fill="#008a00"/>
<path d="M503.9 934.1L506.95 939.25L500.85 939.25Z" fill="#008a00"/>
<path d="M505.7 945.2L508.75 950.35L502.65 950.35Z" fill="#008a00"/>
<path d="M507.8 954.1L510.85 959.25L504.75 959.25Z" fill="#008a00"/>
<path d="M505.7 965.4L508.75 970.55L502.65 970.55Z" fill="#008a00"/>
<path d="M507.8 975.9L510.85 981.05L504.75 981.05Z" fill="#008a00"/>
<path d="M502 986.9L505.05 992.05L498.95 992.05Z" fill="#008a00"/>
<path d="M500.2 997.7L503.25 1002.85L497.15 1002.85Z" fill="#008a00"/>
<path d="M498.4 1009.3L501.45 1014.45L495.35 1014.45Z" fill="#008a00"/>
<path d="M552.5 879.9L555.2 882.6L552.5 885.3L549.8 882.6Z" fill="#0000cd"/>
<path d="M554.3 891.2L557 893.9L554.3 896.6L551.6 893.9Z" fill="#0000cd"/>
<path d="M539.6 900.4L542.3 903.1L539.6 905.8L536.9 903.1Z" fill="#0000cd"/>
<path d="M543 911.2L545.7 913.9L543 916.6L540.3 913.9Z" fill="#0000cd"/>
<path d="M520.4 924L523.1 926.7L520.4 929.4L517.7 926.7Z" fill="#0000cd"/>
<path d="M522.5 935.1L525.2 937.8L522.5 940.5L519.8 937.8Z" fill="#0000cd"/>
<path d="M541.2 945.9L543.9 948.6L541.2 951.3L538.5 948.6Z" fill="#0000cd"/>
<path d="M556.2 955L558.9 957.7L556.2 960.4L553.5 957.7Z" fill="#0000cd"/>
<path d="M548.8 966.1L551.5 968.8L548.8 971.5L546.1 968.8Z" fill="#0000cd"/>
<path d="M537.8 976.9L540.5 979.6L537.8 982.3L535.1 979.6Z" fill="#0000cd"/>
<path d="M518.9 987.9L521.6 990.6L518.9 993.3L516.2 990.6Z" fill="#0000cd"/>
<path d="M517 998.9L519.7 1001.6L517 1004.3L514.3 1001.6Z" fill="#0000cd"/>
<path d="M543 1010.2L545.7 1012.9L543 1015.6L540.3 1012.9Z" fill="#0000cd"/>
<path d="M630.2 882.6H636.2M633.2 879.6V885.6M631.08 880.48L635.32 884.72M631.08 884.72L635.32 880.48" stroke="#ff8c00" stroke-width="1" fill="none"/>
<path d="M630.2 893.9H636.2M633.2 890.9V896.9M631.08 891.78L635.32 896.02M631.08 896.02L635.32 891.78" stroke="#ff8c00" stroke-width="1" fill="none"/>
<path d="M634.4 902.6H640.4M637.4 899.6V905.6M635.28 900.48L639.52 904.72M635.28 904.72L639.52 900.48" stroke="#ff8c00" stroke-width="1" fill="none"/>
<path d="M625.7 913.9H631.7M628.7 910.9V916.9M626.58 911.78L630.82 916.02M626.58 916.02L630.82 911.78" stroke="#ff8c00" stroke-width="1" fill="none"/>
<path d="M621.5 926.7H627.5M624.5 923.7V929.7M622.38 924.58L626.62 928.82M622.38 928.82L626.62 924.58" stroke="#ff8c00" stroke-width="1" fill="none"/>
<path d="M625.7 937.8H631.7M628.7 934.8V940.8M626.58 935.68L630.82 939.92M626.58 939.92L630.82 935.68" stroke="#ff8c00" stroke-width="1" fill="none"/>
<path d="M612.5 948.6H618.5M615.5 945.6V951.6M613.38 946.48L617.62 950.72M613.38 950.72L617.62 946.48" stroke="#ff8c00" stroke-width="1" fill="none"/>
<path d="M630.2 957.7H636.2M633.2 954.7V960.7M631.08 955.58L635.32 959.82M631.08 959.82L635.32 955.58" stroke="#ff8c00" stroke-width="1" fill="none"/>
<path d="M625.7 968.8H631.7M628.7 965.8V971.8M626.58 966.68L630.82 970.92M626.58 970.92L630.82 966.68" stroke="#ff8c00" stroke-width="1" fill="none"/>
<path d="M621.5 979.6H627.5M624.5 976.6V982.6M622.38 977.48L626.62 981.72M622.38 981.72L626.62 977.48" stroke="#ff8c00" stroke-width="1" fill="none"/>
<path d="M625.7 990.6H631.7M628.7 987.6V993.6M626.58 988.48L630.82 992.72M626.58 992.72L630.82 988.48" stroke="#ff8c00" stroke-width="1" fill="none"/>
<path d="M625.7 1001.6H631.7M628.7 998.6V1004.6M626.58 999.48L630.82 1003.72M626.58 1003.72L630.82 999.48" stroke="#ff8c00" stroke-width="1" fill="none"/>
<path d="M617 1012.9H623M620 1009.9V1015.9M617.88 1010.78L622.12 1015.02M617.88 1015.02L622.12 1010.78" stroke="#ff8c00" stroke-width="1" fill="none"/>
<text x="546.5" y="1054.6" font-size="13.2" font-weight="bold" text-anchor="middle"><tspan font-weight="normal" font-size="14.5">δ</tspan><tspan font-size="9.5" dy="-5">13</tspan><tspan dy="5">C &amp; </tspan><tspan font-weight="normal" font-size="14.5">δ</tspan><tspan font-size="9.5" dy="-5">18</tspan><tspan dy="5">O</tspan><tspan font-size="8.8" dy="2">VPDB</tspan><tspan dy="-2"> (‰)</tspan></text>
<g clip-path="url(#cD)">
<rect x="241" y="836" width="202" height="186" fill="#b4aa94"/>
<g filter="url(#b2)">
<rect x="241" y="834" width="202" height="15" fill="#7a7062"/>
<ellipse cx="300" cy="841" rx="12" ry="5" fill="#b0a690"/>
<ellipse cx="350" cy="843" rx="10" ry="4" fill="#4a4238"/>
<ellipse cx="385" cy="841" rx="12" ry="4" fill="#a89c86"/>
<ellipse cx="425" cy="842" rx="12" ry="4" fill="#5a5248"/>
<rect x="241" y="849" width="202" height="22" fill="#c8c8c8"/>
<ellipse cx="262" cy="866" rx="22" ry="6" fill="#b8ae96"/>
<ellipse cx="336" cy="864" rx="20" ry="7" fill="#b8ae96"/>
</g>
<rect x="342" y="880" width="12" height="130" fill="#2e2e2e" filter="url(#b1)"/>
<path d="M241.5 876.0 L246.0 874.9 L336.0 874.9 L341.0 878.0 L344.8 889.9 L346.3 997.6 L341.8 1012.6 L241.5 1012.6 Z" fill="url(#t1D)"/>
<path d="M241.5 876.0 L246.0 874.9 L336.0 874.9 L341.0 878.0 L344.8 889.9 L346.3 997.6 L341.8 1012.6 L241.5 1012.6 Z" fill="url(#vD)"/>
<rect x="241" y="941" width="52" height="9" fill="#7e7e7c" filter="url(#b2)" opacity="0.9"/>
<path d="M285 876 L295 915 L298 960 L303 1005" stroke="#e4e6e8" stroke-width="1" fill="none"/>
<path d="M254 880 L252 930 L250 990" stroke="#a4a6a8" stroke-width="0.7" fill="none"/>
<path d="M349.2 882.4 L374.7 874.9 L404.6 865.9 L425.6 862.9 L439.0 864.4 L440.5 904.8 L441.1 1018.6 L353.7 1018.6 L349.2 979.7 Z" fill="url(#t2D)"/>
<path d="M406 866 L407 940 L408 1015" stroke="#e8eaec" stroke-width="1" fill="none"/>
<rect x="438" y="900" width="5" height="110" fill="#55565a" filter="url(#b1)"/>
<g filter="url(#b04)">
<path d="M293.9 883.9L329.8 880.9" stroke="#25282c" stroke-width="1.3" stroke-linecap="round" opacity="0.85"/>
<path d="M294.9 885.5L329.8 882.5" stroke="#b8bcc0" stroke-width="1.0" stroke-linecap="round" opacity="0.68"/>
<path d="M295.3 893.3L330.5 890.3" stroke="#25282c" stroke-width="1.3" stroke-linecap="round" opacity="0.85"/>
<path d="M296.3 894.9L330.5 891.9" stroke="#b8bcc0" stroke-width="1.0" stroke-linecap="round" opacity="0.68"/>
<path d="M296.7 902.8L331.2 899.8" stroke="#25282c" stroke-width="1.3" stroke-linecap="round" opacity="0.85"/>
<path d="M297.7 904.4L331.2 901.4" stroke="#b8bcc0" stroke-width="1.0" stroke-linecap="round" opacity="0.68"/>
<path d="M298.0 912.2L331.9 909.2" stroke="#25282c" stroke-width="1.3" stroke-linecap="round" opacity="0.85"/>
<path d="M299.0 913.8L331.9 910.8" stroke="#b8bcc0" stroke-width="1.0" stroke-linecap="round" opacity="0.68"/>
<path d="M299.4 921.7L332.6 918.7" stroke="#25282c" stroke-width="1.3" stroke-linecap="round" opacity="0.85"/>
<path d="M300.4 923.3L332.6 920.3" stroke="#b8bcc0" stroke-width="1.0" stroke-linecap="round" opacity="0.68"/>
<path d="M300.8 931.1L333.3 928.1" stroke="#25282c" stroke-width="1.3" stroke-linecap="round" opacity="0.85"/>
<path d="M301.8 932.7L333.3 929.7" stroke="#b8bcc0" stroke-width="1.0" stroke-linecap="round" opacity="0.68"/>
<path d="M302.2 940.5L334.0 937.5" stroke="#25282c" stroke-width="1.3" stroke-linecap="round" opacity="0.85"/>
<path d="M303.2 942.1L334.0 939.1" stroke="#b8bcc0" stroke-width="1.0" stroke-linecap="round" opacity="0.68"/>
<path d="M303.5 950.0L334.6 947.0" stroke="#25282c" stroke-width="1.3" stroke-linecap="round" opacity="0.85"/>
<path d="M304.5 951.6L334.6 948.6" stroke="#b8bcc0" stroke-width="1.0" stroke-linecap="round" opacity="0.68"/>
<path d="M304.9 959.4L335.3 956.4" stroke="#25282c" stroke-width="1.3" stroke-linecap="round" opacity="0.85"/>
<path d="M305.9 961.0L335.3 958.0" stroke="#b8bcc0" stroke-width="1.0" stroke-linecap="round" opacity="0.68"/>
<path d="M306.3 968.8L336.0 965.8" stroke="#25282c" stroke-width="1.3" stroke-linecap="round" opacity="0.85"/>
<path d="M307.3 970.4L336.0 967.4" stroke="#b8bcc0" stroke-width="1.0" stroke-linecap="round" opacity="0.68"/>
<path d="M307.7 978.3L336.7 975.3" stroke="#25282c" stroke-width="1.3" stroke-linecap="round" opacity="0.85"/>
<path d="M308.7 979.9L336.7 976.9" stroke="#b8bcc0" stroke-width="1.0" stroke-linecap="round" opacity="0.68"/>
<path d="M309.0 987.7L337.4 984.7" stroke="#25282c" stroke-width="1.3" stroke-linecap="round" opacity="0.85"/>
<path d="M310.0 989.3L337.4 986.3" stroke="#b8bcc0" stroke-width="1.0" stroke-linecap="round" opacity="0.68"/>
<path d="M310.4 997.2L338.1 994.2" stroke="#25282c" stroke-width="1.3" stroke-linecap="round" opacity="0.85"/>
<path d="M311.4 998.8L338.1 995.8" stroke="#b8bcc0" stroke-width="1.0" stroke-linecap="round" opacity="0.68"/>
<path d="M311.8 1006.6L338.8 1003.6" stroke="#25282c" stroke-width="1.3" stroke-linecap="round" opacity="0.85"/>
<path d="M312.8 1008.2L338.8 1005.2" stroke="#b8bcc0" stroke-width="1.0" stroke-linecap="round" opacity="0.68"/>
</g>
<g filter="url(#b04)">
<path d="M359.7 889.9L401.6 883.9" stroke="#15181c" stroke-width="1.6" stroke-linecap="round" opacity="0.90"/>
<path d="M360.7 891.5L401.6 885.5" stroke="#9ea2a6" stroke-width="1.1" stroke-linecap="round" opacity="0.72"/>
<path d="M360.6 899.1L402.5 893.5" stroke="#15181c" stroke-width="1.6" stroke-linecap="round" opacity="0.90"/>
<path d="M361.6 900.7L402.5 895.1" stroke="#9ea2a6" stroke-width="1.1" stroke-linecap="round" opacity="0.72"/>
<path d="M361.5 908.3L403.4 903.0" stroke="#15181c" stroke-width="1.6" stroke-linecap="round" opacity="0.90"/>
<path d="M362.5 909.9L403.4 904.6" stroke="#9ea2a6" stroke-width="1.1" stroke-linecap="round" opacity="0.72"/>
<path d="M362.5 917.5L404.4 912.6" stroke="#15181c" stroke-width="1.6" stroke-linecap="round" opacity="0.90"/>
<path d="M363.5 919.1L404.4 914.2" stroke="#9ea2a6" stroke-width="1.1" stroke-linecap="round" opacity="0.72"/>
<path d="M363.4 926.7L405.3 922.1" stroke="#15181c" stroke-width="1.6" stroke-linecap="round" opacity="0.90"/>
<path d="M364.4 928.3L405.3 923.7" stroke="#9ea2a6" stroke-width="1.1" stroke-linecap="round" opacity="0.72"/>
<path d="M364.3 935.9L406.2 931.7" stroke="#15181c" stroke-width="1.6" stroke-linecap="round" opacity="0.90"/>
<path d="M365.3 937.5L406.2 933.3" stroke="#9ea2a6" stroke-width="1.1" stroke-linecap="round" opacity="0.72"/>
<path d="M365.2 945.1L407.1 941.2" stroke="#15181c" stroke-width="1.6" stroke-linecap="round" opacity="0.90"/>
<path d="M366.2 946.7L407.1 942.8" stroke="#9ea2a6" stroke-width="1.1" stroke-linecap="round" opacity="0.72"/>
<path d="M366.2 954.4L408.1 950.8" stroke="#15181c" stroke-width="1.6" stroke-linecap="round" opacity="0.90"/>
<path d="M367.2 956.0L408.1 952.4" stroke="#9ea2a6" stroke-width="1.1" stroke-linecap="round" opacity="0.72"/>
<path d="M367.1 963.6L409.0 960.3" stroke="#15181c" stroke-width="1.6" stroke-linecap="round" opacity="0.90"/>
<path d="M368.1 965.2L409.0 961.9" stroke="#9ea2a6" stroke-width="1.1" stroke-linecap="round" opacity="0.72"/>
<path d="M368.0 972.8L409.9 969.9" stroke="#15181c" stroke-width="1.6" stroke-linecap="round" opacity="0.90"/>
<path d="M369.0 974.4L409.9 971.5" stroke="#9ea2a6" stroke-width="1.1" stroke-linecap="round" opacity="0.72"/>
<path d="M368.9 982.0L410.8 979.4" stroke="#15181c" stroke-width="1.6" stroke-linecap="round" opacity="0.90"/>
<path d="M369.9 983.6L410.8 981.0" stroke="#9ea2a6" stroke-width="1.1" stroke-linecap="round" opacity="0.72"/>
<path d="M369.9 991.2L411.8 989.0" stroke="#15181c" stroke-width="1.6" stroke-linecap="round" opacity="0.90"/>
<path d="M370.9 992.8L411.8 990.6" stroke="#9ea2a6" stroke-width="1.1" stroke-linecap="round" opacity="0.72"/>
<path d="M370.8 1000.4L412.7 998.5" stroke="#15181c" stroke-width="1.6" stroke-linecap="round" opacity="0.90"/>
<path d="M371.8 1002.0L412.7 1000.1" stroke="#9ea2a6" stroke-width="1.1" stroke-linecap="round" opacity="0.72"/>
<path d="M371.7 1009.6L413.6 1008.1" stroke="#15181c" stroke-width="1.6" stroke-linecap="round" opacity="0.90"/>
<path d="M372.7 1011.2L413.6 1009.7" stroke="#9ea2a6" stroke-width="1.1" stroke-linecap="round" opacity="0.72"/>
</g>
<path d="M241.0 1010.0 L290.0 1012.0 L340.0 1011.0 L355.0 1016.0 L400.0 1017.0 L443.0 1016.0 L443.0 1022.0 L241.0 1022.0 Z" fill="#b0a892" filter="url(#b1)"/>
</g>
<rect x="240.8" y="836" width="44.2" height="18.7" fill="#fff"/>
<text x="240" y="847.8" font-size="14.3" fill="#000">10 mm</text>
<rect x="243.2" y="849.9" width="38" height="2.4" fill="#000"/>
<path d="M211.7 0.7L219.1 13.6L204.3 13.6Z" fill="#008a00"/>
<text x="223.5" y="13.6" font-size="13.3" font-weight="bold"><tspan font-weight="normal">δ</tspan><tspan font-size="9" dy="-5">13</tspan><tspan dy="5">C</tspan><tspan font-size="9" dy="2">VPDB</tspan><tspan dy="-2"> (‰)</tspan></text>
<path d="M314.2 4.5L320.3 10L314.2 15.5L308.1 10Z" fill="#0000cd"/>
<text x="326.3" y="13.6" font-size="13.3" font-weight="bold"><tspan font-weight="normal">δ</tspan><tspan font-size="9" dy="-5">18</tspan><tspan dy="5">O</tspan><tspan font-size="9" dy="2">VPDB</tspan><tspan dy="-2"> (‰)</tspan></text>
<path d="M408.7 9.3H425.3M417 1V17.6M411.13 3.43L422.87 15.17M411.13 15.17L422.87 3.43" stroke="#ff8c00" stroke-width="1.4" fill="none"/>
<text x="429.2" y="13.6" font-size="13.3" font-weight="bold"><tspan font-size="9" dy="-5">87</tspan><tspan dy="5">Sr/</tspan><tspan font-size="9" dy="-5">86</tspan><tspan dy="5">Sr</tspan></text>
</svg></body></html>
